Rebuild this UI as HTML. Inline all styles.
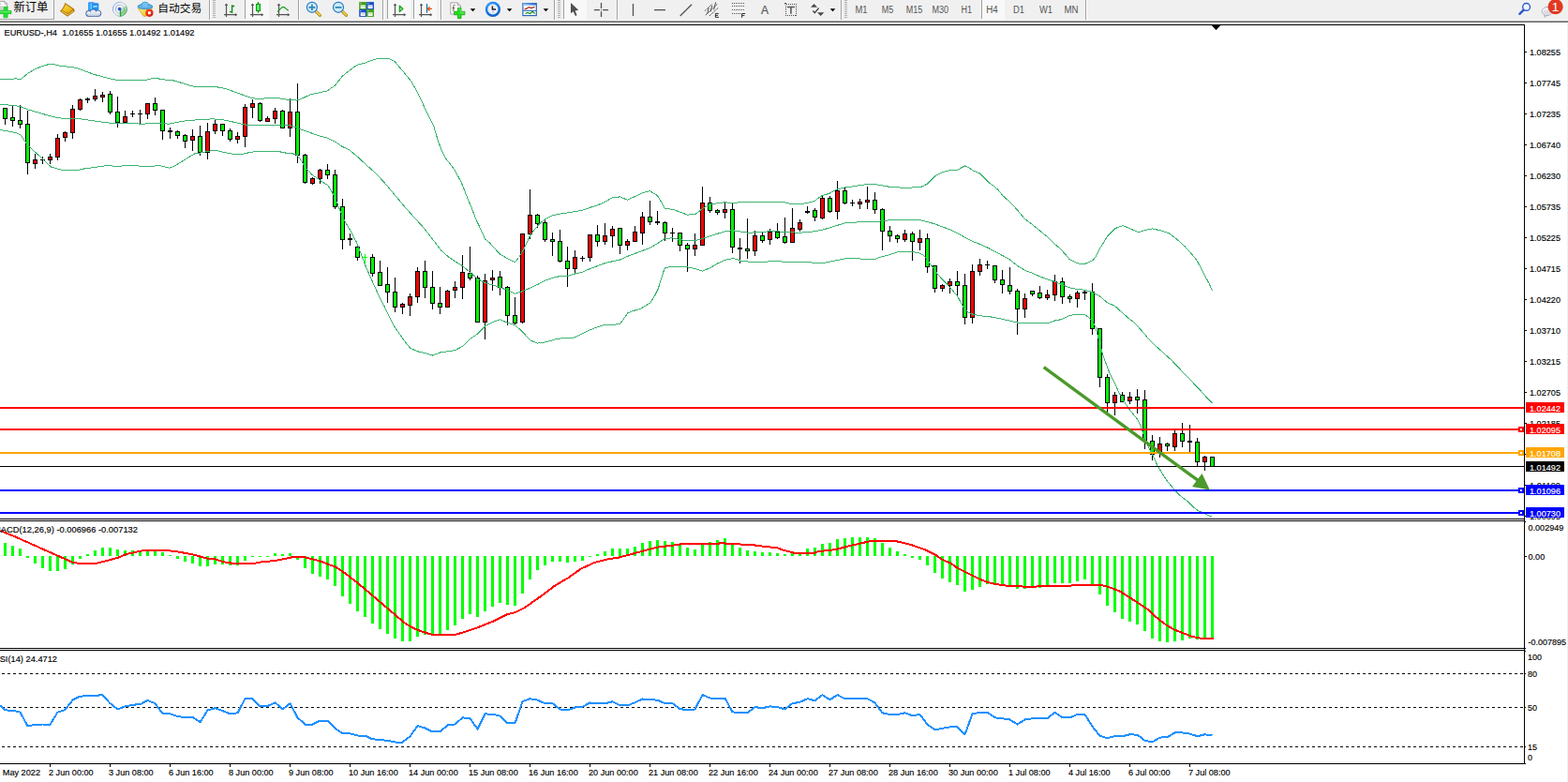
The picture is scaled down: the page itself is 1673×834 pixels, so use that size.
<!DOCTYPE html>
<html><head><meta charset="utf-8"><title>EURUSD H4</title>
<style>
html,body{margin:0;padding:0;background:#fff;}
body{width:1673px;height:834px;overflow:hidden;position:relative;font-family:"Liberation Sans",sans-serif;}
svg{position:absolute;left:0;top:0;display:block;}
text{font-family:"Liberation Sans",sans-serif;}
</style></head><body>
<svg width="1673" height="834" viewBox="0 0 1673 834">
<rect x="0" y="0" width="1673" height="834" fill="#fff"/>
<g shape-rendering="crispEdges">
<rect x="0" y="26" width="1627" height="1" fill="#000"/>
<rect x="1626" y="26" width="1" height="789" fill="#000"/>
<rect x="0" y="553" width="1627" height="1" fill="#000"/>
<rect x="0" y="555" width="1627" height="1" fill="#000"/>
<rect x="0" y="691" width="1627" height="1" fill="#000"/>
<rect x="0" y="693" width="1627" height="1" fill="#000"/>
<rect x="0" y="814" width="1627" height="1" fill="#000"/>
<rect x="1672" y="24" width="1" height="810" fill="#f0f0f0"/>
<rect x="5" y="115" width="1" height="18" fill="#000"/>
<rect x="3" y="115" width="5" height="12" fill="#000"/>
<rect x="4" y="116" width="3" height="10" fill="#00ff00"/>
<rect x="13" y="113" width="1" height="22" fill="#000"/>
<rect x="11" y="125" width="5" height="4" fill="#000"/>
<rect x="12" y="126" width="3" height="2" fill="#00ff00"/>
<rect x="21" y="112" width="1" height="25" fill="#000"/>
<rect x="19" y="128" width="5" height="5" fill="#000"/>
<rect x="20" y="129" width="3" height="3" fill="#00ff00"/>
<rect x="29" y="118" width="1" height="68" fill="#000"/>
<rect x="27" y="132" width="5" height="42" fill="#000"/>
<rect x="28" y="133" width="3" height="40" fill="#00ff00"/>
<rect x="37" y="164" width="1" height="16" fill="#000"/>
<rect x="35" y="170" width="5" height="5" fill="#000"/>
<rect x="36" y="171" width="3" height="3" fill="#ff0000"/>
<rect x="45" y="167" width="1" height="8" fill="#000"/>
<rect x="43" y="170" width="5" height="1" fill="#000"/>
<rect x="53" y="164" width="1" height="11" fill="#000"/>
<rect x="51" y="167" width="5" height="4" fill="#000"/>
<rect x="52" y="168" width="3" height="2" fill="#ff0000"/>
<rect x="61" y="143" width="1" height="28" fill="#000"/>
<rect x="59" y="147" width="5" height="21" fill="#000"/>
<rect x="60" y="148" width="3" height="19" fill="#ff0000"/>
<rect x="69" y="140" width="1" height="11" fill="#000"/>
<rect x="67" y="141" width="5" height="6" fill="#000"/>
<rect x="68" y="142" width="3" height="4" fill="#ff0000"/>
<rect x="77" y="112" width="1" height="36" fill="#000"/>
<rect x="75" y="116" width="5" height="26" fill="#000"/>
<rect x="76" y="117" width="3" height="24" fill="#ff0000"/>
<rect x="85" y="105" width="1" height="13" fill="#000"/>
<rect x="83" y="106" width="5" height="11" fill="#000"/>
<rect x="84" y="107" width="3" height="9" fill="#ff0000"/>
<rect x="93" y="104" width="1" height="6" fill="#000"/>
<rect x="91" y="105" width="5" height="2" fill="#000"/>
<rect x="101" y="95" width="1" height="13" fill="#000"/>
<rect x="99" y="102" width="5" height="4" fill="#000"/>
<rect x="100" y="103" width="3" height="2" fill="#ff0000"/>
<rect x="109" y="98" width="1" height="11" fill="#000"/>
<rect x="107" y="101" width="5" height="3" fill="#000"/>
<rect x="108" y="102" width="3" height="1" fill="#ff0000"/>
<rect x="117" y="97" width="1" height="25" fill="#000"/>
<rect x="115" y="100" width="5" height="20" fill="#000"/>
<rect x="116" y="101" width="3" height="18" fill="#00ff00"/>
<rect x="125" y="103" width="1" height="33" fill="#000"/>
<rect x="123" y="119" width="5" height="12" fill="#000"/>
<rect x="124" y="120" width="3" height="10" fill="#00ff00"/>
<rect x="133" y="118" width="1" height="13" fill="#000"/>
<rect x="131" y="124" width="5" height="7" fill="#000"/>
<rect x="132" y="125" width="3" height="5" fill="#ff0000"/>
<rect x="141" y="118" width="1" height="7" fill="#000"/>
<rect x="139" y="121" width="5" height="1" fill="#000"/>
<rect x="149" y="117" width="1" height="15" fill="#000"/>
<rect x="147" y="121" width="5" height="1" fill="#000"/>
<rect x="157" y="110" width="1" height="17" fill="#000"/>
<rect x="155" y="110" width="5" height="12" fill="#000"/>
<rect x="156" y="111" width="3" height="10" fill="#ff0000"/>
<rect x="165" y="104" width="1" height="19" fill="#000"/>
<rect x="163" y="110" width="5" height="8" fill="#000"/>
<rect x="164" y="111" width="3" height="6" fill="#00ff00"/>
<rect x="173" y="117" width="1" height="32" fill="#000"/>
<rect x="171" y="117" width="5" height="23" fill="#000"/>
<rect x="172" y="118" width="3" height="21" fill="#00ff00"/>
<rect x="181" y="136" width="1" height="12" fill="#000"/>
<rect x="179" y="139" width="5" height="2" fill="#000"/>
<rect x="189" y="139" width="1" height="9" fill="#000"/>
<rect x="187" y="140" width="5" height="5" fill="#000"/>
<rect x="188" y="141" width="3" height="3" fill="#00ff00"/>
<rect x="197" y="143" width="1" height="15" fill="#000"/>
<rect x="195" y="144" width="5" height="7" fill="#000"/>
<rect x="196" y="145" width="3" height="5" fill="#00ff00"/>
<rect x="205" y="138" width="1" height="23" fill="#000"/>
<rect x="203" y="145" width="5" height="5" fill="#000"/>
<rect x="204" y="146" width="3" height="3" fill="#ff0000"/>
<rect x="213" y="134" width="1" height="32" fill="#000"/>
<rect x="211" y="145" width="5" height="18" fill="#000"/>
<rect x="212" y="146" width="3" height="16" fill="#00ff00"/>
<rect x="221" y="131" width="1" height="39" fill="#000"/>
<rect x="219" y="140" width="5" height="23" fill="#000"/>
<rect x="220" y="141" width="3" height="21" fill="#ff0000"/>
<rect x="229" y="128" width="1" height="15" fill="#000"/>
<rect x="227" y="132" width="5" height="8" fill="#000"/>
<rect x="228" y="133" width="3" height="6" fill="#ff0000"/>
<rect x="237" y="132" width="1" height="13" fill="#000"/>
<rect x="235" y="132" width="5" height="8" fill="#000"/>
<rect x="236" y="133" width="3" height="6" fill="#00ff00"/>
<rect x="245" y="137" width="1" height="14" fill="#000"/>
<rect x="243" y="139" width="5" height="10" fill="#000"/>
<rect x="244" y="140" width="3" height="8" fill="#00ff00"/>
<rect x="253" y="141" width="1" height="12" fill="#000"/>
<rect x="251" y="145" width="5" height="4" fill="#000"/>
<rect x="252" y="146" width="3" height="2" fill="#ff0000"/>
<rect x="261" y="111" width="1" height="46" fill="#000"/>
<rect x="259" y="114" width="5" height="32" fill="#000"/>
<rect x="260" y="115" width="3" height="30" fill="#ff0000"/>
<rect x="269" y="106" width="1" height="20" fill="#000"/>
<rect x="267" y="110" width="5" height="5" fill="#000"/>
<rect x="268" y="111" width="3" height="3" fill="#ff0000"/>
<rect x="277" y="109" width="1" height="21" fill="#000"/>
<rect x="275" y="110" width="5" height="19" fill="#000"/>
<rect x="276" y="111" width="3" height="17" fill="#00ff00"/>
<rect x="285" y="124" width="1" height="6" fill="#000"/>
<rect x="283" y="126" width="5" height="4" fill="#000"/>
<rect x="284" y="127" width="3" height="2" fill="#ff0000"/>
<rect x="293" y="115" width="1" height="17" fill="#000"/>
<rect x="291" y="118" width="5" height="9" fill="#000"/>
<rect x="292" y="119" width="3" height="7" fill="#ff0000"/>
<rect x="301" y="117" width="1" height="20" fill="#000"/>
<rect x="299" y="118" width="5" height="19" fill="#000"/>
<rect x="300" y="119" width="3" height="17" fill="#00ff00"/>
<rect x="309" y="105" width="1" height="41" fill="#000"/>
<rect x="307" y="119" width="5" height="18" fill="#000"/>
<rect x="308" y="120" width="3" height="16" fill="#ff0000"/>
<rect x="317" y="89" width="1" height="85" fill="#000"/>
<rect x="315" y="119" width="5" height="47" fill="#000"/>
<rect x="316" y="120" width="3" height="45" fill="#00ff00"/>
<rect x="325" y="164" width="1" height="32" fill="#000"/>
<rect x="323" y="165" width="5" height="30" fill="#000"/>
<rect x="324" y="166" width="3" height="28" fill="#00ff00"/>
<rect x="333" y="189" width="1" height="8" fill="#000"/>
<rect x="331" y="190" width="5" height="6" fill="#000"/>
<rect x="332" y="191" width="3" height="4" fill="#ff0000"/>
<rect x="341" y="180" width="1" height="16" fill="#000"/>
<rect x="339" y="181" width="5" height="10" fill="#000"/>
<rect x="340" y="182" width="3" height="8" fill="#ff0000"/>
<rect x="349" y="175" width="1" height="16" fill="#000"/>
<rect x="347" y="181" width="5" height="6" fill="#000"/>
<rect x="348" y="182" width="3" height="4" fill="#00ff00"/>
<rect x="357" y="181" width="1" height="42" fill="#000"/>
<rect x="355" y="186" width="5" height="35" fill="#000"/>
<rect x="356" y="187" width="3" height="33" fill="#00ff00"/>
<rect x="365" y="212" width="1" height="54" fill="#000"/>
<rect x="363" y="220" width="5" height="36" fill="#000"/>
<rect x="364" y="221" width="3" height="34" fill="#00ff00"/>
<rect x="373" y="249" width="1" height="13" fill="#000"/>
<rect x="371" y="254" width="5" height="2" fill="#000"/>
<rect x="381" y="260" width="1" height="18" fill="#000"/>
<rect x="379" y="263" width="5" height="12" fill="#000"/>
<rect x="380" y="264" width="3" height="10" fill="#00ff00"/>
<rect x="389" y="271" width="1" height="11" fill="#00ff00"/>
<rect x="387" y="274" width="5" height="1" fill="#00ff00"/>
<rect x="397" y="271" width="1" height="24" fill="#000"/>
<rect x="395" y="274" width="5" height="18" fill="#000"/>
<rect x="396" y="275" width="3" height="16" fill="#00ff00"/>
<rect x="405" y="278" width="1" height="27" fill="#000"/>
<rect x="403" y="290" width="5" height="15" fill="#000"/>
<rect x="404" y="291" width="3" height="13" fill="#00ff00"/>
<rect x="413" y="285" width="1" height="38" fill="#000"/>
<rect x="411" y="303" width="5" height="9" fill="#000"/>
<rect x="412" y="304" width="3" height="7" fill="#00ff00"/>
<rect x="421" y="296" width="1" height="37" fill="#000"/>
<rect x="419" y="311" width="5" height="17" fill="#000"/>
<rect x="420" y="312" width="3" height="15" fill="#00ff00"/>
<rect x="429" y="323" width="1" height="12" fill="#000"/>
<rect x="427" y="324" width="5" height="4" fill="#000"/>
<rect x="428" y="325" width="3" height="2" fill="#ff0000"/>
<rect x="437" y="313" width="1" height="24" fill="#000"/>
<rect x="435" y="316" width="5" height="10" fill="#000"/>
<rect x="436" y="317" width="3" height="8" fill="#ff0000"/>
<rect x="445" y="285" width="1" height="38" fill="#000"/>
<rect x="443" y="289" width="5" height="28" fill="#000"/>
<rect x="444" y="290" width="3" height="26" fill="#ff0000"/>
<rect x="453" y="278" width="1" height="40" fill="#000"/>
<rect x="451" y="289" width="5" height="18" fill="#000"/>
<rect x="452" y="290" width="3" height="16" fill="#00ff00"/>
<rect x="461" y="289" width="1" height="41" fill="#000"/>
<rect x="459" y="306" width="5" height="18" fill="#000"/>
<rect x="460" y="307" width="3" height="16" fill="#00ff00"/>
<rect x="469" y="306" width="1" height="29" fill="#000"/>
<rect x="467" y="323" width="5" height="5" fill="#000"/>
<rect x="468" y="324" width="3" height="3" fill="#00ff00"/>
<rect x="477" y="309" width="1" height="19" fill="#000"/>
<rect x="475" y="310" width="5" height="18" fill="#000"/>
<rect x="476" y="311" width="3" height="16" fill="#ff0000"/>
<rect x="485" y="300" width="1" height="18" fill="#000"/>
<rect x="483" y="306" width="5" height="4" fill="#000"/>
<rect x="484" y="307" width="3" height="2" fill="#ff0000"/>
<rect x="493" y="272" width="1" height="47" fill="#000"/>
<rect x="491" y="290" width="5" height="17" fill="#000"/>
<rect x="492" y="291" width="3" height="15" fill="#ff0000"/>
<rect x="501" y="263" width="1" height="36" fill="#000"/>
<rect x="499" y="291" width="5" height="6" fill="#000"/>
<rect x="500" y="292" width="3" height="4" fill="#00ff00"/>
<rect x="509" y="294" width="1" height="50" fill="#000"/>
<rect x="507" y="296" width="5" height="48" fill="#000"/>
<rect x="508" y="297" width="3" height="46" fill="#00ff00"/>
<rect x="517" y="292" width="1" height="70" fill="#000"/>
<rect x="515" y="299" width="5" height="45" fill="#000"/>
<rect x="516" y="300" width="3" height="43" fill="#ff0000"/>
<rect x="525" y="288" width="1" height="22" fill="#000"/>
<rect x="523" y="296" width="5" height="3" fill="#000"/>
<rect x="524" y="297" width="3" height="1" fill="#ff0000"/>
<rect x="533" y="289" width="1" height="26" fill="#000"/>
<rect x="531" y="295" width="5" height="12" fill="#000"/>
<rect x="532" y="296" width="3" height="10" fill="#00ff00"/>
<rect x="541" y="305" width="1" height="42" fill="#000"/>
<rect x="539" y="306" width="5" height="31" fill="#000"/>
<rect x="540" y="307" width="3" height="29" fill="#00ff00"/>
<rect x="549" y="317" width="1" height="29" fill="#000"/>
<rect x="547" y="336" width="5" height="9" fill="#000"/>
<rect x="548" y="337" width="3" height="7" fill="#00ff00"/>
<rect x="557" y="249" width="1" height="96" fill="#000"/>
<rect x="555" y="249" width="5" height="95" fill="#000"/>
<rect x="556" y="250" width="3" height="93" fill="#ff0000"/>
<rect x="565" y="202" width="1" height="53" fill="#000"/>
<rect x="563" y="229" width="5" height="21" fill="#000"/>
<rect x="564" y="230" width="3" height="19" fill="#ff0000"/>
<rect x="573" y="228" width="1" height="15" fill="#000"/>
<rect x="571" y="229" width="5" height="10" fill="#000"/>
<rect x="572" y="230" width="3" height="8" fill="#00ff00"/>
<rect x="581" y="235" width="1" height="23" fill="#000"/>
<rect x="579" y="237" width="5" height="19" fill="#000"/>
<rect x="580" y="238" width="3" height="17" fill="#00ff00"/>
<rect x="589" y="248" width="1" height="25" fill="#000"/>
<rect x="587" y="255" width="5" height="3" fill="#000"/>
<rect x="588" y="256" width="3" height="1" fill="#00ff00"/>
<rect x="597" y="245" width="1" height="35" fill="#000"/>
<rect x="595" y="257" width="5" height="22" fill="#000"/>
<rect x="596" y="258" width="3" height="20" fill="#00ff00"/>
<rect x="605" y="263" width="1" height="43" fill="#000"/>
<rect x="603" y="278" width="5" height="9" fill="#000"/>
<rect x="604" y="279" width="3" height="7" fill="#00ff00"/>
<rect x="613" y="267" width="1" height="25" fill="#000"/>
<rect x="611" y="274" width="5" height="13" fill="#000"/>
<rect x="612" y="275" width="3" height="11" fill="#ff0000"/>
<rect x="621" y="273" width="1" height="6" fill="#000"/>
<rect x="619" y="275" width="5" height="1" fill="#000"/>
<rect x="629" y="250" width="1" height="29" fill="#000"/>
<rect x="627" y="250" width="5" height="25" fill="#000"/>
<rect x="628" y="251" width="3" height="23" fill="#ff0000"/>
<rect x="637" y="240" width="1" height="23" fill="#000"/>
<rect x="635" y="250" width="5" height="8" fill="#000"/>
<rect x="636" y="251" width="3" height="6" fill="#00ff00"/>
<rect x="645" y="238" width="1" height="23" fill="#000"/>
<rect x="643" y="251" width="5" height="7" fill="#000"/>
<rect x="644" y="252" width="3" height="5" fill="#ff0000"/>
<rect x="653" y="241" width="1" height="23" fill="#000"/>
<rect x="651" y="244" width="5" height="8" fill="#000"/>
<rect x="652" y="245" width="3" height="6" fill="#ff0000"/>
<rect x="661" y="243" width="1" height="28" fill="#000"/>
<rect x="659" y="243" width="5" height="19" fill="#000"/>
<rect x="660" y="244" width="3" height="17" fill="#00ff00"/>
<rect x="669" y="255" width="1" height="12" fill="#000"/>
<rect x="667" y="257" width="5" height="5" fill="#000"/>
<rect x="668" y="258" width="3" height="3" fill="#ff0000"/>
<rect x="677" y="241" width="1" height="17" fill="#000"/>
<rect x="675" y="247" width="5" height="11" fill="#000"/>
<rect x="676" y="248" width="3" height="9" fill="#ff0000"/>
<rect x="685" y="226" width="1" height="35" fill="#000"/>
<rect x="683" y="231" width="5" height="18" fill="#000"/>
<rect x="684" y="232" width="3" height="16" fill="#ff0000"/>
<rect x="693" y="214" width="1" height="26" fill="#000"/>
<rect x="691" y="231" width="5" height="6" fill="#000"/>
<rect x="692" y="232" width="3" height="4" fill="#00ff00"/>
<rect x="701" y="225" width="1" height="15" fill="#000"/>
<rect x="699" y="236" width="5" height="2" fill="#000"/>
<rect x="709" y="236" width="1" height="21" fill="#000"/>
<rect x="707" y="237" width="5" height="12" fill="#000"/>
<rect x="708" y="238" width="3" height="10" fill="#00ff00"/>
<rect x="717" y="243" width="1" height="15" fill="#000"/>
<rect x="715" y="248" width="5" height="1" fill="#000"/>
<rect x="725" y="248" width="1" height="20" fill="#000"/>
<rect x="723" y="248" width="5" height="14" fill="#000"/>
<rect x="724" y="249" width="3" height="12" fill="#00ff00"/>
<rect x="733" y="259" width="1" height="31" fill="#000"/>
<rect x="731" y="261" width="5" height="5" fill="#000"/>
<rect x="732" y="262" width="3" height="3" fill="#00ff00"/>
<rect x="741" y="249" width="1" height="24" fill="#000"/>
<rect x="739" y="261" width="5" height="5" fill="#000"/>
<rect x="740" y="262" width="3" height="3" fill="#ff0000"/>
<rect x="749" y="199" width="1" height="63" fill="#000"/>
<rect x="747" y="216" width="5" height="46" fill="#000"/>
<rect x="748" y="217" width="3" height="44" fill="#ff0000"/>
<rect x="757" y="210" width="1" height="17" fill="#000"/>
<rect x="755" y="216" width="5" height="9" fill="#000"/>
<rect x="756" y="217" width="3" height="7" fill="#00ff00"/>
<rect x="765" y="223" width="1" height="6" fill="#000"/>
<rect x="763" y="224" width="5" height="3" fill="#000"/>
<rect x="764" y="225" width="3" height="1" fill="#00ff00"/>
<rect x="773" y="216" width="1" height="17" fill="#000"/>
<rect x="771" y="223" width="5" height="4" fill="#000"/>
<rect x="772" y="224" width="3" height="2" fill="#ff0000"/>
<rect x="781" y="217" width="1" height="53" fill="#000"/>
<rect x="779" y="223" width="5" height="41" fill="#000"/>
<rect x="780" y="224" width="3" height="39" fill="#00ff00"/>
<rect x="789" y="254" width="1" height="27" fill="#000"/>
<rect x="787" y="264" width="5" height="2" fill="#000"/>
<rect x="797" y="233" width="1" height="43" fill="#000"/>
<rect x="795" y="265" width="5" height="3" fill="#000"/>
<rect x="796" y="266" width="3" height="1" fill="#00ff00"/>
<rect x="805" y="246" width="1" height="27" fill="#000"/>
<rect x="803" y="251" width="5" height="17" fill="#000"/>
<rect x="804" y="252" width="3" height="15" fill="#ff0000"/>
<rect x="813" y="248" width="1" height="11" fill="#000"/>
<rect x="811" y="251" width="5" height="6" fill="#000"/>
<rect x="812" y="252" width="3" height="4" fill="#00ff00"/>
<rect x="821" y="244" width="1" height="17" fill="#000"/>
<rect x="819" y="247" width="5" height="9" fill="#000"/>
<rect x="820" y="248" width="3" height="7" fill="#ff0000"/>
<rect x="829" y="238" width="1" height="17" fill="#000"/>
<rect x="827" y="247" width="5" height="7" fill="#000"/>
<rect x="828" y="248" width="3" height="5" fill="#00ff00"/>
<rect x="837" y="232" width="1" height="28" fill="#000"/>
<rect x="835" y="252" width="5" height="7" fill="#000"/>
<rect x="836" y="253" width="3" height="5" fill="#00ff00"/>
<rect x="845" y="222" width="1" height="37" fill="#000"/>
<rect x="843" y="243" width="5" height="16" fill="#000"/>
<rect x="844" y="244" width="3" height="14" fill="#ff0000"/>
<rect x="853" y="234" width="1" height="13" fill="#000"/>
<rect x="851" y="237" width="5" height="8" fill="#000"/>
<rect x="852" y="238" width="3" height="6" fill="#ff0000"/>
<rect x="861" y="220" width="1" height="8" fill="#000"/>
<rect x="859" y="225" width="5" height="2" fill="#000"/>
<rect x="869" y="222" width="1" height="14" fill="#000"/>
<rect x="867" y="224" width="5" height="8" fill="#000"/>
<rect x="868" y="225" width="3" height="6" fill="#00ff00"/>
<rect x="877" y="209" width="1" height="25" fill="#000"/>
<rect x="875" y="211" width="5" height="22" fill="#000"/>
<rect x="876" y="212" width="3" height="20" fill="#ff0000"/>
<rect x="885" y="209" width="1" height="18" fill="#000"/>
<rect x="883" y="211" width="5" height="15" fill="#000"/>
<rect x="884" y="212" width="3" height="13" fill="#00ff00"/>
<rect x="893" y="193" width="1" height="41" fill="#000"/>
<rect x="891" y="203" width="5" height="23" fill="#000"/>
<rect x="892" y="204" width="3" height="21" fill="#ff0000"/>
<rect x="901" y="200" width="1" height="18" fill="#000"/>
<rect x="899" y="203" width="5" height="14" fill="#000"/>
<rect x="900" y="204" width="3" height="12" fill="#00ff00"/>
<rect x="909" y="213" width="1" height="7" fill="#000"/>
<rect x="907" y="216" width="5" height="1" fill="#000"/>
<rect x="917" y="212" width="1" height="11" fill="#000"/>
<rect x="915" y="215" width="5" height="3" fill="#000"/>
<rect x="916" y="216" width="3" height="1" fill="#ff0000"/>
<rect x="925" y="199" width="1" height="24" fill="#000"/>
<rect x="923" y="213" width="5" height="3" fill="#000"/>
<rect x="924" y="214" width="3" height="1" fill="#ff0000"/>
<rect x="933" y="205" width="1" height="23" fill="#000"/>
<rect x="931" y="213" width="5" height="11" fill="#000"/>
<rect x="932" y="214" width="3" height="9" fill="#00ff00"/>
<rect x="941" y="222" width="1" height="45" fill="#000"/>
<rect x="939" y="223" width="5" height="24" fill="#000"/>
<rect x="940" y="224" width="3" height="22" fill="#00ff00"/>
<rect x="949" y="241" width="1" height="17" fill="#000"/>
<rect x="947" y="246" width="5" height="6" fill="#000"/>
<rect x="948" y="247" width="3" height="4" fill="#00ff00"/>
<rect x="957" y="250" width="1" height="9" fill="#000"/>
<rect x="955" y="251" width="5" height="4" fill="#000"/>
<rect x="956" y="252" width="3" height="2" fill="#00ff00"/>
<rect x="965" y="245" width="1" height="13" fill="#000"/>
<rect x="963" y="249" width="5" height="7" fill="#000"/>
<rect x="964" y="250" width="3" height="5" fill="#ff0000"/>
<rect x="973" y="247" width="1" height="31" fill="#000"/>
<rect x="971" y="249" width="5" height="9" fill="#000"/>
<rect x="972" y="250" width="3" height="7" fill="#00ff00"/>
<rect x="981" y="245" width="1" height="22" fill="#000"/>
<rect x="979" y="254" width="5" height="5" fill="#000"/>
<rect x="980" y="255" width="3" height="3" fill="#ff0000"/>
<rect x="989" y="249" width="1" height="42" fill="#000"/>
<rect x="987" y="254" width="5" height="31" fill="#000"/>
<rect x="988" y="255" width="3" height="29" fill="#00ff00"/>
<rect x="997" y="283" width="1" height="29" fill="#000"/>
<rect x="995" y="283" width="5" height="25" fill="#000"/>
<rect x="996" y="284" width="3" height="23" fill="#00ff00"/>
<rect x="1005" y="303" width="1" height="8" fill="#000"/>
<rect x="1003" y="304" width="5" height="4" fill="#000"/>
<rect x="1004" y="305" width="3" height="2" fill="#ff0000"/>
<rect x="1013" y="297" width="1" height="16" fill="#000"/>
<rect x="1011" y="300" width="5" height="5" fill="#000"/>
<rect x="1012" y="301" width="3" height="3" fill="#ff0000"/>
<rect x="1021" y="289" width="1" height="26" fill="#000"/>
<rect x="1019" y="300" width="5" height="5" fill="#000"/>
<rect x="1020" y="301" width="3" height="3" fill="#00ff00"/>
<rect x="1029" y="292" width="1" height="54" fill="#000"/>
<rect x="1027" y="304" width="5" height="35" fill="#000"/>
<rect x="1028" y="305" width="3" height="33" fill="#00ff00"/>
<rect x="1037" y="282" width="1" height="63" fill="#000"/>
<rect x="1035" y="289" width="5" height="50" fill="#000"/>
<rect x="1036" y="290" width="3" height="48" fill="#ff0000"/>
<rect x="1045" y="276" width="1" height="18" fill="#000"/>
<rect x="1043" y="282" width="5" height="8" fill="#000"/>
<rect x="1044" y="283" width="3" height="6" fill="#ff0000"/>
<rect x="1053" y="278" width="1" height="9" fill="#000"/>
<rect x="1051" y="282" width="5" height="1" fill="#000"/>
<rect x="1061" y="283" width="1" height="19" fill="#000"/>
<rect x="1059" y="283" width="5" height="16" fill="#000"/>
<rect x="1060" y="284" width="3" height="14" fill="#00ff00"/>
<rect x="1069" y="288" width="1" height="25" fill="#000"/>
<rect x="1067" y="298" width="5" height="6" fill="#000"/>
<rect x="1068" y="299" width="3" height="4" fill="#00ff00"/>
<rect x="1077" y="285" width="1" height="29" fill="#000"/>
<rect x="1075" y="304" width="5" height="7" fill="#000"/>
<rect x="1076" y="305" width="3" height="5" fill="#00ff00"/>
<rect x="1085" y="308" width="1" height="49" fill="#000"/>
<rect x="1083" y="310" width="5" height="20" fill="#000"/>
<rect x="1084" y="311" width="3" height="18" fill="#00ff00"/>
<rect x="1093" y="313" width="1" height="26" fill="#000"/>
<rect x="1091" y="318" width="5" height="12" fill="#000"/>
<rect x="1092" y="319" width="3" height="10" fill="#ff0000"/>
<rect x="1101" y="310" width="1" height="6" fill="#000"/>
<rect x="1099" y="310" width="5" height="4" fill="#000"/>
<rect x="1100" y="311" width="3" height="2" fill="#00ff00"/>
<rect x="1109" y="305" width="1" height="14" fill="#000"/>
<rect x="1107" y="312" width="5" height="6" fill="#000"/>
<rect x="1108" y="313" width="3" height="4" fill="#00ff00"/>
<rect x="1117" y="309" width="1" height="11" fill="#000"/>
<rect x="1115" y="314" width="5" height="4" fill="#000"/>
<rect x="1116" y="315" width="3" height="2" fill="#ff0000"/>
<rect x="1125" y="293" width="1" height="28" fill="#000"/>
<rect x="1123" y="300" width="5" height="15" fill="#000"/>
<rect x="1124" y="301" width="3" height="13" fill="#ff0000"/>
<rect x="1133" y="296" width="1" height="28" fill="#000"/>
<rect x="1131" y="300" width="5" height="17" fill="#000"/>
<rect x="1132" y="301" width="3" height="15" fill="#00ff00"/>
<rect x="1141" y="314" width="1" height="9" fill="#000"/>
<rect x="1139" y="316" width="5" height="3" fill="#000"/>
<rect x="1140" y="317" width="3" height="1" fill="#00ff00"/>
<rect x="1149" y="310" width="1" height="18" fill="#000"/>
<rect x="1147" y="312" width="5" height="7" fill="#000"/>
<rect x="1148" y="313" width="3" height="5" fill="#ff0000"/>
<rect x="1157" y="309" width="1" height="11" fill="#000"/>
<rect x="1155" y="311" width="5" height="2" fill="#000"/>
<rect x="1165" y="302" width="1" height="55" fill="#000"/>
<rect x="1163" y="311" width="5" height="40" fill="#000"/>
<rect x="1164" y="312" width="3" height="38" fill="#00ff00"/>
<rect x="1173" y="350" width="1" height="63" fill="#000"/>
<rect x="1171" y="350" width="5" height="53" fill="#000"/>
<rect x="1172" y="351" width="3" height="51" fill="#00ff00"/>
<rect x="1181" y="399" width="1" height="41" fill="#000"/>
<rect x="1179" y="402" width="5" height="28" fill="#000"/>
<rect x="1180" y="403" width="3" height="26" fill="#00ff00"/>
<rect x="1189" y="418" width="1" height="25" fill="#000"/>
<rect x="1187" y="421" width="5" height="9" fill="#000"/>
<rect x="1188" y="422" width="3" height="7" fill="#ff0000"/>
<rect x="1197" y="418" width="1" height="11" fill="#000"/>
<rect x="1195" y="421" width="5" height="8" fill="#000"/>
<rect x="1196" y="422" width="3" height="6" fill="#00ff00"/>
<rect x="1205" y="418" width="1" height="13" fill="#000"/>
<rect x="1203" y="423" width="5" height="5" fill="#000"/>
<rect x="1204" y="424" width="3" height="3" fill="#ff0000"/>
<rect x="1213" y="415" width="1" height="26" fill="#000"/>
<rect x="1211" y="423" width="5" height="4" fill="#000"/>
<rect x="1212" y="424" width="3" height="2" fill="#00ff00"/>
<rect x="1221" y="416" width="1" height="63" fill="#000"/>
<rect x="1219" y="426" width="5" height="44" fill="#000"/>
<rect x="1220" y="427" width="3" height="42" fill="#00ff00"/>
<rect x="1229" y="464" width="1" height="27" fill="#000"/>
<rect x="1227" y="470" width="5" height="15" fill="#000"/>
<rect x="1228" y="471" width="3" height="13" fill="#00ff00"/>
<rect x="1237" y="466" width="1" height="22" fill="#000"/>
<rect x="1235" y="473" width="5" height="10" fill="#000"/>
<rect x="1236" y="474" width="3" height="8" fill="#ff0000"/>
<rect x="1245" y="472" width="1" height="9" fill="#000"/>
<rect x="1243" y="473" width="5" height="3" fill="#000"/>
<rect x="1244" y="474" width="3" height="1" fill="#00ff00"/>
<rect x="1253" y="459" width="1" height="22" fill="#000"/>
<rect x="1251" y="462" width="5" height="15" fill="#000"/>
<rect x="1252" y="463" width="3" height="13" fill="#ff0000"/>
<rect x="1261" y="451" width="1" height="26" fill="#000"/>
<rect x="1259" y="462" width="5" height="9" fill="#000"/>
<rect x="1260" y="463" width="3" height="7" fill="#00ff00"/>
<rect x="1269" y="453" width="1" height="29" fill="#000"/>
<rect x="1267" y="470" width="5" height="2" fill="#000"/>
<rect x="1277" y="467" width="1" height="31" fill="#000"/>
<rect x="1275" y="471" width="5" height="22" fill="#000"/>
<rect x="1276" y="472" width="3" height="20" fill="#00ff00"/>
<rect x="1285" y="486" width="1" height="16" fill="#000"/>
<rect x="1283" y="487" width="5" height="6" fill="#000"/>
<rect x="1284" y="488" width="3" height="4" fill="#ff0000"/>
<rect x="1293" y="487" width="1" height="11" fill="#000"/>
<rect x="1291" y="487" width="5" height="11" fill="#000"/>
<rect x="1292" y="488" width="3" height="9" fill="#00ff00"/>
<polyline points="0.5,84.7 17.8,83.9 22.1,84.7 29.3,78.6 36.5,74.2 43.7,71.1 50.9,68.9 58.1,68.9 65.2,70.4 72.4,71.1 79.6,72.1 86.8,74.2 94.0,77.1 101.2,79.7 108.4,81.4 115.6,83.6 122.8,85.0 137.2,85.0 147.3,86.0 153.0,85.8 161.7,83.9 168.8,83.9 176.0,85.0 184.7,85.8 194.7,88.6 204.8,91.9 213.5,92.9 232.5,93.0 240.5,94.5 250.5,98.1 260.5,101.7 268.5,104.4 275.5,105.6 285.5,104.7 297.5,104.7 305.5,106.1 316.5,107.1 320.5,105.9 330.5,101.1 340.5,98.8 349.1,97.0 357.8,90.8 365.0,81.5 372.2,75.7 380.8,69.2 389.4,67.1 398.1,63.9 405.2,62.0 413.9,62.0 421.1,65.6 429.7,75.7 439.1,87.2 447.0,101.6 455.6,120.3 462.8,134.7 467.1,149.1 470.7,159.2 475.5,168.7 485.5,181.9 492.5,195.1 498.5,210.5 503.5,222.5 508.5,235.5 514.5,247.7 517.5,254.9 522.5,259.1 528.5,265.7 533.5,271.1 540.5,275.2 549.5,279.9 553.5,274.5 557.5,268.6 561.5,260.2 565.5,251.3 569.5,245.9 573.5,241.1 577.5,236.9 581.5,233.9 589.5,229.7 597.5,228.1 605.5,226.9 613.5,225.5 621.5,224.3 629.5,221.3 637.5,218.9 645.5,215.3 653.5,210.8 661.5,209.9 669.5,213.2 677.5,209.6 685.5,205.7 693.5,203.7 701.5,208.7 705.5,215.3 709.5,222.8 717.5,223.1 725.5,226.1 733.5,229.1 741.5,228.7 745.5,225.9 749.5,222.3 757.5,218.3 765.5,216.6 773.5,215.7 781.5,216.9 789.5,215.7 797.5,215.4 813.5,215.7 829.5,215.7 837.5,215.9 845.5,217.8 853.5,217.8 861.5,216.3 869.5,214.5 873.5,210.9 877.5,208.5 885.5,206.1 889.5,203.7 893.5,201.9 901.5,199.9 909.5,198.9 917.5,197.7 925.5,196.5 937.5,197.1 945.5,198.7 953.5,199.9 965.5,200.1 981.5,199.9 985.5,198.1 989.9,195.8 998.5,187.1 1005.0,183.9 1012.2,181.9 1021.9,181.0 1029.4,177.0 1033.7,178.8 1038.1,181.9 1045.6,185.0 1049.9,189.3 1055.3,194.9 1059.6,197.9 1065.4,202.9 1069.5,208.3 1077.5,215.5 1085.5,223.9 1093.5,233.5 1101.5,239.5 1109.5,246.1 1117.5,252.6 1125.5,260.4 1131.5,265.5 1137.5,272.1 1141.5,276.9 1149.1,280.7 1156.3,281.9 1161.5,279.9 1166.4,277.3 1169.5,273.3 1173.6,265.0 1181.5,252.1 1190.1,243.5 1198.1,240.6 1205.2,243.5 1214.6,247.8 1221.1,245.6 1229.7,243.9 1238.3,245.9 1247.0,248.5 1255.6,255.0 1264.2,262.9 1271.4,270.8 1277.2,278.0 1284.4,291.7 1290.1,302.5 1293.5,310.1" fill="none" stroke="#3cb371" stroke-width="1"/>
<polyline points="0.5,111.5 10.5,112.1 20.5,113.3 25.5,115.1 30.5,117.1 40.5,119.9 50.5,122.9 60.5,125.3 70.5,126.8 85.5,126.8 100.5,128.9 115.5,131.0 125.5,131.3 140.5,131.3 150.5,132.2 165.5,131.6 180.5,132.1 190.5,130.1 200.5,128.5 215.5,127.5 225.5,126.9 235.5,127.2 245.5,129.3 255.5,131.7 265.5,133.8 280.5,133.8 300.5,133.8 310.5,133.8 315.5,135.9 320.5,137.7 330.5,141.3 340.5,144.8 349.1,146.9 357.8,151.3 365.0,156.3 372.5,159.8 380.5,166.3 393.5,178.3 400.5,184.3 410.5,195.1 420.5,207.1 430.5,219.0 440.5,230.3 450.5,241.2 460.5,253.7 470.5,266.9 478.5,274.0 485.5,278.8 493.5,283.6 500.5,289.6 508.5,296.5 514.5,300.2 521.5,302.9 530.5,305.3 541.5,309.5 549.5,313.1 557.5,310.7 565.5,307.1 573.5,303.5 581.5,299.3 589.5,296.3 596.5,294.8 605.5,294.5 613.5,292.0 621.5,290.2 629.5,286.6 637.5,283.6 645.5,280.6 653.5,278.8 661.5,277.0 669.5,273.4 677.5,270.4 685.5,267.4 693.5,264.4 701.5,259.6 709.5,254.3 717.5,253.9 725.5,255.5 733.5,257.0 741.5,256.8 749.5,254.6 757.5,251.7 765.5,249.3 773.5,246.9 781.5,245.7 789.5,246.9 797.5,248.1 813.5,247.8 821.5,246.3 829.5,246.6 837.5,247.8 853.5,248.1 861.5,247.8 869.5,246.6 877.5,245.1 885.5,242.9 893.5,240.3 901.5,237.9 909.5,237.5 917.5,236.7 926.5,236.8 933.5,236.8 941.5,235.6 949.5,234.7 965.5,234.7 981.5,234.7 985.5,235.6 989.5,236.5 997.5,238.9 1005.5,241.9 1013.5,244.9 1021.5,248.5 1029.5,253.2 1037.5,257.4 1045.5,260.4 1053.5,264.0 1061.5,268.2 1069.5,272.5 1077.5,277.0 1085.5,283.3 1093.5,288.3 1101.5,291.3 1109.5,294.9 1117.5,297.9 1125.5,300.3 1133.5,303.9 1141.5,306.9 1149.5,308.4 1157.5,309.3 1165.5,311.6 1173.5,316.0 1182.2,323.3 1189.4,326.2 1198.1,334.1 1205.5,340.6 1209.5,343.5 1217.5,351.9 1225.5,361.5 1233.5,369.3 1241.5,376.5 1249.5,383.7 1257.5,392.1 1265.5,400.5 1273.5,408.8 1281.5,417.2 1289.5,426.2 1293.5,430.0" fill="none" stroke="#3cb371" stroke-width="1"/>
<polyline points="0.5,138.5 10.5,140.3 18.5,142.1 22.5,144.5 26.5,150.5 30.5,155.8 35.5,160.6 40.5,164.8 45.5,169.6 50.5,174.4 54.5,178.0 60.5,179.8 68.5,181.9 80.5,181.9 90.5,179.8 100.5,178.6 113.5,176.6 125.5,177.4 135.5,176.6 150.5,177.1 160.5,177.4 170.5,176.6 180.5,179.2 185.5,177.4 190.5,174.4 200.5,168.3 207.5,164.0 215.5,162.8 225.5,160.8 232.5,160.8 240.5,162.8 250.5,164.6 257.5,164.6 265.5,162.8 272.5,161.6 285.5,161.6 297.5,161.6 305.5,163.2 312.5,164.0 316.5,165.0 320.5,169.9 326.5,179.5 333.5,186.9 340.5,191.5 345.5,195.1 349.5,197.5 352.5,201.7 357.5,211.0 362.5,223.7 368.5,236.9 374.5,247.0 380.5,258.5 385.5,271.7 390.5,284.8 395.5,296.0 400.5,307.3 405.5,317.9 410.5,327.5 415.5,338.3 420.5,347.9 425.5,355.0 430.5,362.2 437.5,371.2 445.5,374.8 453.5,376.6 461.5,379.0 469.5,376.0 477.5,374.8 485.5,373.6 493.5,369.4 500.5,362.2 509.5,356.2 517.5,347.9 525.5,343.7 533.5,340.7 541.5,344.3 549.5,346.7 557.5,353.8 565.5,362.8 573.5,366.1 581.5,364.9 589.5,362.8 594.9,361.1 609.3,360.6 614.1,359.6 621.3,356.0 628.5,352.4 634.5,349.8 642.9,347.0 654.8,346.4 662.0,345.0 665.6,339.9 669.8,333.9 674.0,332.1 683.6,329.1 693.8,323.1 698.6,315.3 702.2,308.1 705.2,298.5 708.2,288.9 710.0,285.1 717.5,284.9 725.5,284.9 734.0,285.0 741.5,286.5 749.5,289.1 757.5,285.8 765.5,281.0 773.5,277.4 781.5,275.6 785.5,276.2 789.5,278.0 797.5,279.0 805.5,279.2 813.5,279.8 821.5,278.6 829.5,278.3 837.5,279.5 853.5,279.5 861.5,279.8 869.5,280.2 877.5,280.7 885.5,279.2 893.5,277.4 901.5,275.9 909.5,275.6 917.5,275.9 925.5,276.8 933.5,277.0 937.5,274.8 941.5,273.6 949.5,271.6 957.5,268.8 965.5,268.5 973.5,268.5 981.5,270.1 985.5,272.4 989.5,277.0 993.5,283.0 997.5,288.3 1001.5,293.7 1005.5,297.9 1013.5,306.3 1021.5,315.9 1025.5,323.1 1029.5,330.2 1033.5,333.2 1037.5,335.0 1045.5,336.8 1053.5,337.4 1061.5,338.6 1069.5,340.4 1077.5,342.2 1085.5,344.0 1093.5,344.0 1101.5,344.0 1105.5,344.9 1117.5,344.9 1121.5,343.4 1125.5,342.0 1133.5,340.4 1137.5,338.4 1141.5,336.2 1149.5,335.6 1157.5,335.6 1161.5,338.6 1165.5,342.2 1168.5,347.5 1171.5,358.5 1175.5,374.1 1179.5,386.1 1183.5,396.9 1189.5,408.8 1193.5,418.0 1197.5,424.8 1201.5,431.5 1205.5,437.3 1209.5,442.1 1213.5,446.9 1217.5,455.3 1221.5,467.3 1225.5,476.9 1230.1,485.7 1234.9,496.5 1239.7,504.3 1244.5,512.0 1249.3,517.7 1254.1,523.5 1258.9,528.3 1263.6,532.1 1268.5,535.9 1273.2,540.7 1278.0,544.5 1282.8,546.5 1287.6,548.9 1293.5,551.3" fill="none" stroke="#3cb371" stroke-width="1"/>
<rect x="0" y="434" width="1626" height="2" fill="#ff0000"/>
<rect x="0" y="457" width="1626" height="2" fill="#ff0000"/>
<rect x="0" y="482" width="1626" height="2" fill="#ffa500"/>
<rect x="0" y="497" width="1626" height="1" fill="#000"/>
<rect x="0" y="522" width="1626" height="2" fill="#0000ff"/>
<rect x="0" y="546" width="1626" height="2" fill="#0000ff"/>
<rect x="1620" y="455" width="6" height="6" fill="#ff0000"/>
<rect x="1622" y="457" width="2" height="2" fill="#fff"/>
<rect x="1620" y="480" width="6" height="6" fill="#ffa500"/>
<rect x="1622" y="482" width="2" height="2" fill="#fff"/>
<rect x="1620" y="520" width="6" height="6" fill="#0000ff"/>
<rect x="1622" y="522" width="2" height="2" fill="#fff"/>
<rect x="1620" y="544" width="6" height="6" fill="#0000ff"/>
<rect x="1622" y="546" width="2" height="2" fill="#fff"/>
<rect x="1277" y="467" width="1" height="31" fill="#000"/>
<rect x="1275" y="471" width="5" height="22" fill="#000"/>
<rect x="1276" y="472" width="3" height="20" fill="#00ff00"/>
<rect x="1285" y="486" width="1" height="16" fill="#000"/>
<rect x="1283" y="487" width="5" height="6" fill="#000"/>
<rect x="1284" y="488" width="3" height="4" fill="#ff0000"/>
<rect x="1293" y="487" width="1" height="11" fill="#000"/>
<rect x="1291" y="487" width="5" height="11" fill="#000"/>
<rect x="1292" y="488" width="3" height="9" fill="#00ff00"/>
<rect x="4" y="579" width="3" height="14" fill="#00ff00"/>
<rect x="12" y="582" width="3" height="11" fill="#00ff00"/>
<rect x="20" y="585" width="3" height="8" fill="#00ff00"/>
<rect x="28" y="593" width="3" height="2" fill="#00ff00"/>
<rect x="36" y="593" width="3" height="8" fill="#00ff00"/>
<rect x="44" y="593" width="3" height="13" fill="#00ff00"/>
<rect x="52" y="593" width="3" height="16" fill="#00ff00"/>
<rect x="60" y="593" width="3" height="16" fill="#00ff00"/>
<rect x="68" y="593" width="3" height="14" fill="#00ff00"/>
<rect x="76" y="593" width="3" height="9" fill="#00ff00"/>
<rect x="84" y="593" width="3" height="3" fill="#00ff00"/>
<rect x="92" y="591" width="3" height="2" fill="#00ff00"/>
<rect x="100" y="587" width="3" height="6" fill="#00ff00"/>
<rect x="108" y="584" width="3" height="9" fill="#00ff00"/>
<rect x="116" y="584" width="3" height="9" fill="#00ff00"/>
<rect x="124" y="586" width="3" height="7" fill="#00ff00"/>
<rect x="132" y="587" width="3" height="6" fill="#00ff00"/>
<rect x="140" y="587" width="3" height="6" fill="#00ff00"/>
<rect x="148" y="587" width="3" height="6" fill="#00ff00"/>
<rect x="156" y="587" width="3" height="6" fill="#00ff00"/>
<rect x="164" y="587" width="3" height="6" fill="#00ff00"/>
<rect x="172" y="589" width="3" height="4" fill="#00ff00"/>
<rect x="180" y="592" width="3" height="1" fill="#00ff00"/>
<rect x="188" y="593" width="3" height="3" fill="#00ff00"/>
<rect x="196" y="593" width="3" height="6" fill="#00ff00"/>
<rect x="204" y="593" width="3" height="8" fill="#00ff00"/>
<rect x="212" y="593" width="3" height="11" fill="#00ff00"/>
<rect x="220" y="593" width="3" height="11" fill="#00ff00"/>
<rect x="228" y="593" width="3" height="9" fill="#00ff00"/>
<rect x="236" y="593" width="3" height="9" fill="#00ff00"/>
<rect x="244" y="593" width="3" height="10" fill="#00ff00"/>
<rect x="252" y="593" width="3" height="10" fill="#00ff00"/>
<rect x="260" y="593" width="3" height="5" fill="#00ff00"/>
<rect x="268" y="593" width="3" height="1" fill="#00ff00"/>
<rect x="276" y="593" width="3" height="1" fill="#00ff00"/>
<rect x="284" y="593" width="3" height="1" fill="#00ff00"/>
<rect x="292" y="590" width="3" height="3" fill="#00ff00"/>
<rect x="300" y="591" width="3" height="2" fill="#00ff00"/>
<rect x="308" y="590" width="3" height="3" fill="#00ff00"/>
<rect x="316" y="593" width="3" height="4" fill="#00ff00"/>
<rect x="324" y="593" width="3" height="13" fill="#00ff00"/>
<rect x="332" y="593" width="3" height="19" fill="#00ff00"/>
<rect x="340" y="593" width="3" height="22" fill="#00ff00"/>
<rect x="348" y="593" width="3" height="25" fill="#00ff00"/>
<rect x="356" y="593" width="3" height="32" fill="#00ff00"/>
<rect x="364" y="593" width="3" height="43" fill="#00ff00"/>
<rect x="372" y="593" width="3" height="51" fill="#00ff00"/>
<rect x="380" y="593" width="3" height="59" fill="#00ff00"/>
<rect x="388" y="593" width="3" height="65" fill="#00ff00"/>
<rect x="396" y="593" width="3" height="72" fill="#00ff00"/>
<rect x="404" y="593" width="3" height="78" fill="#00ff00"/>
<rect x="412" y="593" width="3" height="83" fill="#00ff00"/>
<rect x="420" y="593" width="3" height="88" fill="#00ff00"/>
<rect x="428" y="593" width="3" height="91" fill="#00ff00"/>
<rect x="436" y="593" width="3" height="91" fill="#00ff00"/>
<rect x="444" y="593" width="3" height="86" fill="#00ff00"/>
<rect x="452" y="593" width="3" height="84" fill="#00ff00"/>
<rect x="460" y="593" width="3" height="84" fill="#00ff00"/>
<rect x="468" y="593" width="3" height="83" fill="#00ff00"/>
<rect x="476" y="593" width="3" height="79" fill="#00ff00"/>
<rect x="484" y="593" width="3" height="74" fill="#00ff00"/>
<rect x="492" y="593" width="3" height="67" fill="#00ff00"/>
<rect x="500" y="593" width="3" height="62" fill="#00ff00"/>
<rect x="508" y="593" width="3" height="65" fill="#00ff00"/>
<rect x="516" y="593" width="3" height="59" fill="#00ff00"/>
<rect x="524" y="593" width="3" height="54" fill="#00ff00"/>
<rect x="532" y="593" width="3" height="50" fill="#00ff00"/>
<rect x="540" y="593" width="3" height="52" fill="#00ff00"/>
<rect x="548" y="593" width="3" height="53" fill="#00ff00"/>
<rect x="556" y="593" width="3" height="40" fill="#00ff00"/>
<rect x="564" y="593" width="3" height="25" fill="#00ff00"/>
<rect x="572" y="593" width="3" height="15" fill="#00ff00"/>
<rect x="580" y="593" width="3" height="10" fill="#00ff00"/>
<rect x="588" y="593" width="3" height="6" fill="#00ff00"/>
<rect x="596" y="593" width="3" height="6" fill="#00ff00"/>
<rect x="604" y="593" width="3" height="7" fill="#00ff00"/>
<rect x="612" y="593" width="3" height="6" fill="#00ff00"/>
<rect x="620" y="593" width="3" height="5" fill="#00ff00"/>
<rect x="628" y="593" width="3" height="1" fill="#00ff00"/>
<rect x="636" y="591" width="3" height="2" fill="#00ff00"/>
<rect x="644" y="588" width="3" height="5" fill="#00ff00"/>
<rect x="652" y="585" width="3" height="8" fill="#00ff00"/>
<rect x="660" y="585" width="3" height="8" fill="#00ff00"/>
<rect x="668" y="585" width="3" height="8" fill="#00ff00"/>
<rect x="676" y="583" width="3" height="10" fill="#00ff00"/>
<rect x="684" y="579" width="3" height="14" fill="#00ff00"/>
<rect x="692" y="577" width="3" height="16" fill="#00ff00"/>
<rect x="700" y="576" width="3" height="17" fill="#00ff00"/>
<rect x="708" y="577" width="3" height="16" fill="#00ff00"/>
<rect x="716" y="578" width="3" height="15" fill="#00ff00"/>
<rect x="724" y="580" width="3" height="13" fill="#00ff00"/>
<rect x="732" y="584" width="3" height="9" fill="#00ff00"/>
<rect x="740" y="586" width="3" height="7" fill="#00ff00"/>
<rect x="748" y="580" width="3" height="13" fill="#00ff00"/>
<rect x="756" y="578" width="3" height="15" fill="#00ff00"/>
<rect x="764" y="576" width="3" height="17" fill="#00ff00"/>
<rect x="772" y="574" width="3" height="19" fill="#00ff00"/>
<rect x="780" y="580" width="3" height="13" fill="#00ff00"/>
<rect x="788" y="584" width="3" height="9" fill="#00ff00"/>
<rect x="796" y="587" width="3" height="6" fill="#00ff00"/>
<rect x="804" y="588" width="3" height="5" fill="#00ff00"/>
<rect x="812" y="589" width="3" height="4" fill="#00ff00"/>
<rect x="820" y="589" width="3" height="4" fill="#00ff00"/>
<rect x="828" y="590" width="3" height="3" fill="#00ff00"/>
<rect x="836" y="591" width="3" height="2" fill="#00ff00"/>
<rect x="844" y="590" width="3" height="3" fill="#00ff00"/>
<rect x="852" y="590" width="3" height="3" fill="#00ff00"/>
<rect x="860" y="585" width="3" height="8" fill="#00ff00"/>
<rect x="868" y="584" width="3" height="9" fill="#00ff00"/>
<rect x="876" y="580" width="3" height="13" fill="#00ff00"/>
<rect x="884" y="579" width="3" height="14" fill="#00ff00"/>
<rect x="892" y="575" width="3" height="18" fill="#00ff00"/>
<rect x="900" y="574" width="3" height="19" fill="#00ff00"/>
<rect x="908" y="573" width="3" height="20" fill="#00ff00"/>
<rect x="916" y="573" width="3" height="20" fill="#00ff00"/>
<rect x="924" y="573" width="3" height="20" fill="#00ff00"/>
<rect x="932" y="574" width="3" height="19" fill="#00ff00"/>
<rect x="940" y="579" width="3" height="14" fill="#00ff00"/>
<rect x="948" y="584" width="3" height="9" fill="#00ff00"/>
<rect x="956" y="588" width="3" height="5" fill="#00ff00"/>
<rect x="964" y="591" width="3" height="2" fill="#00ff00"/>
<rect x="972" y="593" width="3" height="2" fill="#00ff00"/>
<rect x="980" y="593" width="3" height="4" fill="#00ff00"/>
<rect x="988" y="593" width="3" height="10" fill="#00ff00"/>
<rect x="996" y="593" width="3" height="18" fill="#00ff00"/>
<rect x="1004" y="593" width="3" height="24" fill="#00ff00"/>
<rect x="1012" y="593" width="3" height="28" fill="#00ff00"/>
<rect x="1020" y="593" width="3" height="31" fill="#00ff00"/>
<rect x="1028" y="593" width="3" height="38" fill="#00ff00"/>
<rect x="1036" y="593" width="3" height="36" fill="#00ff00"/>
<rect x="1044" y="593" width="3" height="33" fill="#00ff00"/>
<rect x="1052" y="593" width="3" height="30" fill="#00ff00"/>
<rect x="1060" y="593" width="3" height="31" fill="#00ff00"/>
<rect x="1068" y="593" width="3" height="32" fill="#00ff00"/>
<rect x="1076" y="593" width="3" height="33" fill="#00ff00"/>
<rect x="1084" y="593" width="3" height="35" fill="#00ff00"/>
<rect x="1092" y="593" width="3" height="35" fill="#00ff00"/>
<rect x="1100" y="593" width="3" height="34" fill="#00ff00"/>
<rect x="1108" y="593" width="3" height="34" fill="#00ff00"/>
<rect x="1116" y="593" width="3" height="31" fill="#00ff00"/>
<rect x="1124" y="593" width="3" height="29" fill="#00ff00"/>
<rect x="1132" y="593" width="3" height="29" fill="#00ff00"/>
<rect x="1140" y="593" width="3" height="29" fill="#00ff00"/>
<rect x="1148" y="593" width="3" height="27" fill="#00ff00"/>
<rect x="1156" y="593" width="3" height="25" fill="#00ff00"/>
<rect x="1164" y="593" width="3" height="30" fill="#00ff00"/>
<rect x="1172" y="593" width="3" height="41" fill="#00ff00"/>
<rect x="1180" y="593" width="3" height="53" fill="#00ff00"/>
<rect x="1188" y="593" width="3" height="60" fill="#00ff00"/>
<rect x="1196" y="593" width="3" height="67" fill="#00ff00"/>
<rect x="1204" y="593" width="3" height="70" fill="#00ff00"/>
<rect x="1212" y="593" width="3" height="73" fill="#00ff00"/>
<rect x="1220" y="593" width="3" height="80" fill="#00ff00"/>
<rect x="1228" y="593" width="3" height="88" fill="#00ff00"/>
<rect x="1236" y="593" width="3" height="91" fill="#00ff00"/>
<rect x="1244" y="593" width="3" height="92" fill="#00ff00"/>
<rect x="1252" y="593" width="3" height="91" fill="#00ff00"/>
<rect x="1260" y="593" width="3" height="90" fill="#00ff00"/>
<rect x="1268" y="593" width="3" height="88" fill="#00ff00"/>
<rect x="1276" y="593" width="3" height="89" fill="#00ff00"/>
<rect x="1284" y="593" width="3" height="88" fill="#00ff00"/>
<rect x="1292" y="593" width="3" height="87" fill="#00ff00"/>
</g>
<polyline points="0.5,566.0 16.3,572.5 77.5,599.8 86.5,601.3 100.5,601.3 109.9,599.1 125.7,594.8 134.3,591.2 150.1,587.6 158.8,586.5 173.2,586.5 189.0,588.3 206.3,591.5 220.5,595.5 229.1,596.2 237.8,599.1 251.5,601.3 269.5,601.3 278.1,599.5 295.3,597.7 311.1,594.4 325.5,594.4 341.4,598.4 358.6,604.9 370.1,612.8 380.2,620.7 393.2,631.5 407.5,643.7 421.9,656.0 432.0,664.6 440.5,669.6 449.1,673.2 462.1,677.2 485.1,677.2 498.1,673.2 512.5,668.2 526.8,662.4 541.2,655.2 549.9,653.1 559.9,648.0 577.2,635.8 591.5,625.0 606.0,616.4 620.4,606.3 634.7,599.8 649.1,596.2 660.5,594.5 674.9,590.7 689.3,586.7 702.2,583.4 718.1,581.7 727.4,580.2 765.5,580.2 768.4,579.2 772.7,579.2 774.9,580.2 789.3,580.2 791.4,581.2 805.1,581.2 807.3,582.4 813.0,582.4 815.2,583.4 821.7,583.4 823.1,584.3 829.6,584.3 834.6,586.4 841.8,588.2 846.8,589.6 869.1,589.6 872.0,588.4 876.3,588.4 879.2,587.4 885.0,587.1 893.5,585.5 909.3,581.5 926.5,577.6 935.2,576.5 949.5,576.5 958.2,577.6 972.5,581.2 987.0,586.2 998.5,592.0 1005.7,597.0 1014.3,600.6 1021.5,605.7 1030.1,610.0 1038.8,614.3 1046.0,617.9 1053.2,620.8 1061.8,622.9 1070.5,624.1 1079.1,625.4 1100.5,625.6 1134.3,625.0 1158.1,623.6 1173.9,623.6 1182.5,626.0 1194.0,630.1 1204.1,636.5 1214.2,643.0 1224.2,649.5 1234.3,658.8 1244.4,666.7 1253.0,671.5 1261.7,674.9 1270.3,678.3 1278.9,680.4 1286.1,681.4 1294.5,681.4" fill="none" stroke="#ff0000" stroke-width="2" shape-rendering="crispEdges" stroke-linejoin="round"/>
<g shape-rendering="crispEdges">
<line x1="0" y1="718.5" x2="1626" y2="718.5" stroke="#000" stroke-width="1" stroke-dasharray="3,3" stroke-dashoffset="4"/>
<line x1="0" y1="754.5" x2="1626" y2="754.5" stroke="#000" stroke-width="1" stroke-dasharray="3,3" stroke-dashoffset="4"/>
<line x1="0" y1="796.5" x2="1626" y2="796.5" stroke="#000" stroke-width="1" stroke-dasharray="3,3" stroke-dashoffset="4"/>
</g>
<polyline points="0.5,752.4 5.5,757.4 13.5,757.8 21.5,759.6 29.5,774.4 37.5,772.8 45.5,772.5 53.5,772.5 61.5,759.6 69.5,757.0 77.5,746.6 85.5,742.6 93.5,742.3 101.5,741.9 109.5,741.1 117.5,750.2 125.5,756.4 133.5,753.4 141.5,751.7 149.5,751.2 157.5,747.0 165.5,750.2 173.5,761.0 181.5,761.4 189.5,763.9 197.5,765.3 205.5,764.6 213.5,770.4 221.5,757.4 229.5,755.2 237.5,758.1 245.5,761.4 253.5,760.3 261.5,745.2 269.5,745.2 277.5,753.4 285.5,753.1 293.5,749.2 301.5,756.4 309.5,750.2 317.5,765.3 325.5,772.5 333.5,772.5 341.5,768.6 349.5,768.6 357.5,776.8 365.5,782.3 373.5,782.3 381.5,784.5 389.5,784.7 397.5,788.3 405.5,789.1 413.5,789.8 421.5,791.5 429.5,791.5 437.5,785.5 445.5,774.0 453.5,776.5 461.5,780.4 469.5,780.4 477.5,773.5 485.5,772.5 493.5,765.3 501.5,766.3 509.5,777.5 517.5,761.4 525.5,761.8 533.5,763.6 541.5,771.4 549.5,771.4 557.5,748.1 565.5,745.2 573.5,746.6 581.5,750.2 589.5,750.2 597.5,756.4 605.5,757.4 613.5,754.5 621.5,753.8 629.5,749.5 637.5,750.2 645.5,750.2 653.5,748.3 661.5,752.4 669.5,752.4 677.5,749.2 685.5,745.5 693.5,746.3 701.5,746.6 709.5,750.2 717.5,750.2 725.5,756.0 733.5,757.4 741.5,756.4 749.5,741.1 757.5,744.5 765.5,744.5 773.5,744.5 781.5,759.3 789.5,760.3 797.5,760.3 805.5,754.1 813.5,755.2 821.5,753.4 829.5,754.1 837.5,756.4 845.5,750.2 853.5,748.8 861.5,745.2 869.5,747.3 877.5,741.1 885.5,746.3 893.5,741.1 901.5,745.2 909.5,745.2 917.5,745.2 925.5,745.2 933.5,749.5 941.5,760.3 949.5,762.0 957.5,762.0 965.5,760.3 973.5,763.2 981.5,762.0 989.5,772.8 997.5,778.3 1005.5,776.8 1013.5,775.4 1021.5,775.4 1029.5,783.3 1037.5,761.4 1045.5,759.9 1053.5,759.9 1061.5,765.3 1069.5,766.3 1077.5,767.5 1085.5,772.5 1093.5,767.5 1101.5,766.3 1109.5,766.3 1117.5,766.3 1125.5,759.6 1133.5,765.3 1141.5,765.3 1149.5,762.0 1157.5,762.0 1165.5,774.7 1173.5,784.7 1181.5,787.2 1189.5,785.2 1197.5,785.2 1205.5,783.3 1213.5,783.7 1221.5,789.8 1229.5,791.5 1237.5,786.6 1245.5,786.2 1253.5,781.4 1261.5,781.4 1269.5,782.6 1277.5,785.2 1285.5,783.3 1293.5,784.5" fill="none" stroke="#1e90ff" stroke-width="2" shape-rendering="crispEdges" stroke-linejoin="round"/>
<g fill="#4c9a2a" stroke="none">
<polygon points="1112.7,393.0 1277.0,513.6 1279.0,510.8 1114.7,390.2"/>
<polygon points="1290.8,522.5 1282.5,504.9 1272,518.9"/>
</g>
<g shape-rendering="crispEdges">
<rect x="1627" y="55" width="2" height="1" fill="#000"/>
<rect x="1627" y="88" width="2" height="1" fill="#000"/>
<rect x="1627" y="121" width="2" height="1" fill="#000"/>
<rect x="1627" y="154" width="2" height="1" fill="#000"/>
<rect x="1627" y="187" width="2" height="1" fill="#000"/>
<rect x="1627" y="220" width="2" height="1" fill="#000"/>
<rect x="1627" y="253" width="2" height="1" fill="#000"/>
<rect x="1627" y="286" width="2" height="1" fill="#000"/>
<rect x="1627" y="319" width="2" height="1" fill="#000"/>
<rect x="1627" y="352" width="2" height="1" fill="#000"/>
<rect x="1627" y="385" width="2" height="1" fill="#000"/>
<rect x="1627" y="418" width="2" height="1" fill="#000"/>
<rect x="1627" y="451" width="2" height="1" fill="#000"/>
<rect x="1627" y="484" width="2" height="1" fill="#000"/>
<rect x="1627" y="517" width="2" height="1" fill="#000"/>
<rect x="1627" y="550" width="2" height="1" fill="#000"/>
<rect x="1627" y="556" width="1" height="1" fill="#000"/>
<rect x="1627" y="691" width="1" height="1" fill="#000"/>
<rect x="1627" y="593" width="2" height="1" fill="#000"/>
<rect x="1627" y="694" width="1" height="1" fill="#000"/>
<rect x="1627" y="718" width="1" height="1" fill="#000"/>
<rect x="1627" y="754" width="1" height="1" fill="#000"/>
<rect x="1627" y="796" width="1" height="1" fill="#000"/>
<rect x="1627" y="814" width="1" height="1" fill="#000"/>
<rect x="53" y="815" width="1" height="3" fill="#000"/>
<rect x="117" y="815" width="1" height="3" fill="#000"/>
<rect x="181" y="815" width="1" height="3" fill="#000"/>
<rect x="245" y="815" width="1" height="3" fill="#000"/>
<rect x="309" y="815" width="1" height="3" fill="#000"/>
<rect x="373" y="815" width="1" height="3" fill="#000"/>
<rect x="437" y="815" width="1" height="3" fill="#000"/>
<rect x="501" y="815" width="1" height="3" fill="#000"/>
<rect x="565" y="815" width="1" height="3" fill="#000"/>
<rect x="629" y="815" width="1" height="3" fill="#000"/>
<rect x="693" y="815" width="1" height="3" fill="#000"/>
<rect x="757" y="815" width="1" height="3" fill="#000"/>
<rect x="821" y="815" width="1" height="3" fill="#000"/>
<rect x="885" y="815" width="1" height="3" fill="#000"/>
<rect x="949" y="815" width="1" height="3" fill="#000"/>
<rect x="1013" y="815" width="1" height="3" fill="#000"/>
<rect x="1077" y="815" width="1" height="3" fill="#000"/>
<rect x="1141" y="815" width="1" height="3" fill="#000"/>
<rect x="1205" y="815" width="1" height="3" fill="#000"/>
<rect x="1269" y="815" width="1" height="3" fill="#000"/>
</g>
<text x="1632" y="59" font-size="9.6" fill="#000" stroke="#000" stroke-width="0.15" text-anchor="start" textLength="33" lengthAdjust="spacingAndGlyphs">1.08255</text>
<text x="1632" y="92" font-size="9.6" fill="#000" stroke="#000" stroke-width="0.15" text-anchor="start" textLength="33" lengthAdjust="spacingAndGlyphs">1.07745</text>
<text x="1632" y="125" font-size="9.6" fill="#000" stroke="#000" stroke-width="0.15" text-anchor="start" textLength="33" lengthAdjust="spacingAndGlyphs">1.07235</text>
<text x="1632" y="158" font-size="9.6" fill="#000" stroke="#000" stroke-width="0.15" text-anchor="start" textLength="33" lengthAdjust="spacingAndGlyphs">1.06740</text>
<text x="1632" y="191" font-size="9.6" fill="#000" stroke="#000" stroke-width="0.15" text-anchor="start" textLength="33" lengthAdjust="spacingAndGlyphs">1.06230</text>
<text x="1632" y="224" font-size="9.6" fill="#000" stroke="#000" stroke-width="0.15" text-anchor="start" textLength="33" lengthAdjust="spacingAndGlyphs">1.05735</text>
<text x="1632" y="257" font-size="9.6" fill="#000" stroke="#000" stroke-width="0.15" text-anchor="start" textLength="33" lengthAdjust="spacingAndGlyphs">1.05225</text>
<text x="1632" y="290" font-size="9.6" fill="#000" stroke="#000" stroke-width="0.15" text-anchor="start" textLength="33" lengthAdjust="spacingAndGlyphs">1.04715</text>
<text x="1632" y="323" font-size="9.6" fill="#000" stroke="#000" stroke-width="0.15" text-anchor="start" textLength="33" lengthAdjust="spacingAndGlyphs">1.04220</text>
<text x="1632" y="356" font-size="9.6" fill="#000" stroke="#000" stroke-width="0.15" text-anchor="start" textLength="33" lengthAdjust="spacingAndGlyphs">1.03710</text>
<text x="1632" y="389" font-size="9.6" fill="#000" stroke="#000" stroke-width="0.15" text-anchor="start" textLength="33" lengthAdjust="spacingAndGlyphs">1.03215</text>
<text x="1632" y="422" font-size="9.6" fill="#000" stroke="#000" stroke-width="0.15" text-anchor="start" textLength="33" lengthAdjust="spacingAndGlyphs">1.02705</text>
<text x="1632" y="455" font-size="9.6" fill="#000" stroke="#000" stroke-width="0.15" text-anchor="start" textLength="33" lengthAdjust="spacingAndGlyphs">1.02185</text>
<text x="1632" y="488" font-size="9.6" fill="#000" stroke="#000" stroke-width="0.15" text-anchor="start" textLength="33" lengthAdjust="spacingAndGlyphs">1.01700</text>
<text x="1632" y="521" font-size="9.6" fill="#000" stroke="#000" stroke-width="0.15" text-anchor="start" textLength="33" lengthAdjust="spacingAndGlyphs">1.01190</text>
<text x="1632" y="554" font-size="9.6" fill="#000" stroke="#000" stroke-width="0.15" text-anchor="start" textLength="33" lengthAdjust="spacingAndGlyphs">1.00695</text>
<g shape-rendering="crispEdges">
<rect x="1628" y="429" width="41" height="11" fill="#ff0000"/>
<rect x="1628" y="452" width="41" height="11" fill="#ff0000"/>
<rect x="1628" y="477" width="41" height="11" fill="#ffa500"/>
<rect x="1628" y="492" width="41" height="11" fill="#000"/>
<rect x="1628" y="517" width="41" height="11" fill="#0000ff"/>
<rect x="1628" y="541" width="41" height="11" fill="#0000ff"/>
</g>
<text x="1632" y="439" font-size="9.6" fill="#fff" stroke="#fff" stroke-width="0.15" text-anchor="start" textLength="33" lengthAdjust="spacingAndGlyphs">1.02442</text>
<text x="1632" y="462" font-size="9.6" fill="#fff" stroke="#fff" stroke-width="0.15" text-anchor="start" textLength="33" lengthAdjust="spacingAndGlyphs">1.02095</text>
<text x="1632" y="487" font-size="9.6" fill="#fff" stroke="#fff" stroke-width="0.15" text-anchor="start" textLength="33" lengthAdjust="spacingAndGlyphs">1.01708</text>
<text x="1632" y="502" font-size="9.6" fill="#fff" stroke="#fff" stroke-width="0.15" text-anchor="start" textLength="33" lengthAdjust="spacingAndGlyphs">1.01492</text>
<text x="1632" y="527" font-size="9.6" fill="#fff" stroke="#fff" stroke-width="0.15" text-anchor="start" textLength="33" lengthAdjust="spacingAndGlyphs">1.01096</text>
<text x="1632" y="551" font-size="9.6" fill="#fff" stroke="#fff" stroke-width="0.15" text-anchor="start" textLength="33" lengthAdjust="spacingAndGlyphs">1.00730</text>
<text x="1630.5" y="566" font-size="9.6" fill="#000" stroke="#000" stroke-width="0.15" text-anchor="start" textLength="37.8" lengthAdjust="spacingAndGlyphs">0.002949</text>
<text x="1630.5" y="597" font-size="9.6" fill="#000" stroke="#000" stroke-width="0.15" text-anchor="start" textLength="17.8" lengthAdjust="spacingAndGlyphs">0.00</text>
<text x="1630.5" y="688" font-size="9.6" fill="#000" stroke="#000" stroke-width="0.15" text-anchor="start" textLength="40.5" lengthAdjust="spacingAndGlyphs">-0.007895</text>
<text x="1630" y="704" font-size="9.6" fill="#000" stroke="#000" stroke-width="0.15" text-anchor="start" textLength="15" lengthAdjust="spacingAndGlyphs">100</text>
<text x="1630" y="722" font-size="9.6" fill="#000" stroke="#000" stroke-width="0.15" text-anchor="start" textLength="10" lengthAdjust="spacingAndGlyphs">80</text>
<text x="1630" y="758" font-size="9.6" fill="#000" stroke="#000" stroke-width="0.15" text-anchor="start" textLength="10" lengthAdjust="spacingAndGlyphs">50</text>
<text x="1630" y="800" font-size="9.6" fill="#000" stroke="#000" stroke-width="0.15" text-anchor="start" textLength="10" lengthAdjust="spacingAndGlyphs">15</text>
<text x="1630" y="811" font-size="9.6" fill="#000" stroke="#000" stroke-width="0.15" text-anchor="start" textLength="5" lengthAdjust="spacingAndGlyphs">0</text>
<text x="4.5" y="38" font-size="9.6" fill="#000" stroke="#000" stroke-width="0.15" text-anchor="start" textLength="203" lengthAdjust="spacingAndGlyphs" xml:space="preserve">EURUSD-,H4&#160;&#160;1.01655 1.01655 1.01492 1.01492</text>
<text x="-7" y="568" font-size="9.6" fill="#000" stroke="#000" stroke-width="0.15" text-anchor="start" textLength="154" lengthAdjust="spacingAndGlyphs">MACD(12,26,9) -0.006966 -0.007132</text>
<text x="-7" y="706" font-size="9.6" fill="#000" stroke="#000" stroke-width="0.15" text-anchor="start" textLength="68" lengthAdjust="spacingAndGlyphs">RSI(14) 24.4712</text>
<text x="-10" y="827" font-size="9.6" fill="#000" stroke="#000" stroke-width="0.15" text-anchor="start" textLength="53" lengthAdjust="spacingAndGlyphs">31 May 2022</text>
<text x="52" y="827" font-size="9.6" fill="#000" stroke="#000" stroke-width="0.15" text-anchor="start" textLength="47.7" lengthAdjust="spacingAndGlyphs">2 Jun 00:00</text>
<text x="116" y="827" font-size="9.6" fill="#000" stroke="#000" stroke-width="0.15" text-anchor="start" textLength="47.7" lengthAdjust="spacingAndGlyphs">3 Jun 08:00</text>
<text x="180" y="827" font-size="9.6" fill="#000" stroke="#000" stroke-width="0.15" text-anchor="start" textLength="47.7" lengthAdjust="spacingAndGlyphs">6 Jun 16:00</text>
<text x="244" y="827" font-size="9.6" fill="#000" stroke="#000" stroke-width="0.15" text-anchor="start" textLength="47.7" lengthAdjust="spacingAndGlyphs">8 Jun 00:00</text>
<text x="308" y="827" font-size="9.6" fill="#000" stroke="#000" stroke-width="0.15" text-anchor="start" textLength="47.7" lengthAdjust="spacingAndGlyphs">9 Jun 08:00</text>
<text x="372" y="827" font-size="9.6" fill="#000" stroke="#000" stroke-width="0.15" text-anchor="start" textLength="52.7" lengthAdjust="spacingAndGlyphs">10 Jun 16:00</text>
<text x="436" y="827" font-size="9.6" fill="#000" stroke="#000" stroke-width="0.15" text-anchor="start" textLength="52.7" lengthAdjust="spacingAndGlyphs">14 Jun 00:00</text>
<text x="500" y="827" font-size="9.6" fill="#000" stroke="#000" stroke-width="0.15" text-anchor="start" textLength="52.7" lengthAdjust="spacingAndGlyphs">15 Jun 08:00</text>
<text x="564" y="827" font-size="9.6" fill="#000" stroke="#000" stroke-width="0.15" text-anchor="start" textLength="52.7" lengthAdjust="spacingAndGlyphs">16 Jun 16:00</text>
<text x="628" y="827" font-size="9.6" fill="#000" stroke="#000" stroke-width="0.15" text-anchor="start" textLength="52.7" lengthAdjust="spacingAndGlyphs">20 Jun 00:00</text>
<text x="692" y="827" font-size="9.6" fill="#000" stroke="#000" stroke-width="0.15" text-anchor="start" textLength="52.7" lengthAdjust="spacingAndGlyphs">21 Jun 08:00</text>
<text x="756" y="827" font-size="9.6" fill="#000" stroke="#000" stroke-width="0.15" text-anchor="start" textLength="52.7" lengthAdjust="spacingAndGlyphs">22 Jun 16:00</text>
<text x="820" y="827" font-size="9.6" fill="#000" stroke="#000" stroke-width="0.15" text-anchor="start" textLength="52.7" lengthAdjust="spacingAndGlyphs">24 Jun 00:00</text>
<text x="884" y="827" font-size="9.6" fill="#000" stroke="#000" stroke-width="0.15" text-anchor="start" textLength="52.7" lengthAdjust="spacingAndGlyphs">27 Jun 08:00</text>
<text x="948" y="827" font-size="9.6" fill="#000" stroke="#000" stroke-width="0.15" text-anchor="start" textLength="52.7" lengthAdjust="spacingAndGlyphs">28 Jun 16:00</text>
<text x="1012" y="827" font-size="9.6" fill="#000" stroke="#000" stroke-width="0.15" text-anchor="start" textLength="52.7" lengthAdjust="spacingAndGlyphs">30 Jun 00:00</text>
<text x="1076" y="827" font-size="9.6" fill="#000" stroke="#000" stroke-width="0.15" text-anchor="start" textLength="44.6" lengthAdjust="spacingAndGlyphs">1 Jul 08:00</text>
<text x="1140" y="827" font-size="9.6" fill="#000" stroke="#000" stroke-width="0.15" text-anchor="start" textLength="44.6" lengthAdjust="spacingAndGlyphs">4 Jul 16:00</text>
<text x="1204" y="827" font-size="9.6" fill="#000" stroke="#000" stroke-width="0.15" text-anchor="start" textLength="44.6" lengthAdjust="spacingAndGlyphs">6 Jul 00:00</text>
<text x="1268" y="827" font-size="9.6" fill="#000" stroke="#000" stroke-width="0.15" text-anchor="start" textLength="44.6" lengthAdjust="spacingAndGlyphs">7 Jul 08:00</text>
<g shape-rendering="crispEdges">
<rect x="1293" y="27" width="9" height="1" fill="#000"/>
<rect x="1294" y="28" width="7" height="1" fill="#000"/>
<rect x="1295" y="29" width="5" height="1" fill="#000"/>
<rect x="1296" y="30" width="3" height="1" fill="#000"/>
<rect x="1297" y="31" width="1" height="1" fill="#000"/>
</g>
<g id="toolbar">
<g shape-rendering="crispEdges">
<rect x="0" y="0" width="1673" height="22" fill="#f0f0f0"/>
<rect x="0" y="21" width="1673" height="1" fill="#f8f8f8"/>
<rect x="0" y="22" width="1673" height="1" fill="#a0a0a0"/>
<rect x="0" y="23" width="1673" height="1" fill="#696969"/>
<rect x="0" y="20" width="58" height="1" fill="#a0a0a0"/>
<rect x="57" y="0" width="1" height="21" fill="#a0a0a0"/>
<rect x="0" y="19" width="57" height="1" fill="#f6f6f6"/>
<rect x="56" y="0" width="1" height="20" fill="#f6f6f6"/>
<rect x="223" y="0" width="1" height="21" fill="#a0a0a0"/><rect x="224" y="0" width="1" height="21" fill="#fff"/>
<rect x="318" y="0" width="1" height="21" fill="#a0a0a0"/><rect x="319" y="0" width="1" height="21" fill="#fff"/>
<rect x="408" y="0" width="1" height="21" fill="#a0a0a0"/><rect x="409" y="0" width="1" height="21" fill="#fff"/>
<rect x="470" y="0" width="1" height="21" fill="#a0a0a0"/><rect x="471" y="0" width="1" height="21" fill="#fff"/>
<rect x="591" y="0" width="1" height="21" fill="#a0a0a0"/><rect x="592" y="0" width="1" height="21" fill="#fff"/>
<rect x="658" y="0" width="1" height="21" fill="#a0a0a0"/><rect x="659" y="0" width="1" height="21" fill="#fff"/>
<rect x="897" y="0" width="1" height="21" fill="#a0a0a0"/><rect x="898" y="0" width="1" height="21" fill="#fff"/>
<rect x="1158" y="0" width="1" height="21" fill="#a0a0a0"/><rect x="1159" y="0" width="1" height="21" fill="#fff"/>
<rect x="441" y="0" width="1" height="20" fill="#a0a0a0"/>
<rect x="227" y="0" width="3" height="1" fill="#b0b0b0"/>
<rect x="227" y="2" width="3" height="1" fill="#b0b0b0"/>
<rect x="227" y="4" width="3" height="1" fill="#b0b0b0"/>
<rect x="227" y="6" width="3" height="1" fill="#b0b0b0"/>
<rect x="227" y="8" width="3" height="1" fill="#b0b0b0"/>
<rect x="227" y="10" width="3" height="1" fill="#b0b0b0"/>
<rect x="227" y="12" width="3" height="1" fill="#b0b0b0"/>
<rect x="227" y="14" width="3" height="1" fill="#b0b0b0"/>
<rect x="227" y="16" width="3" height="1" fill="#b0b0b0"/>
<rect x="227" y="18" width="3" height="1" fill="#b0b0b0"/>
<rect x="595" y="0" width="3" height="1" fill="#b0b0b0"/>
<rect x="595" y="2" width="3" height="1" fill="#b0b0b0"/>
<rect x="595" y="4" width="3" height="1" fill="#b0b0b0"/>
<rect x="595" y="6" width="3" height="1" fill="#b0b0b0"/>
<rect x="595" y="8" width="3" height="1" fill="#b0b0b0"/>
<rect x="595" y="10" width="3" height="1" fill="#b0b0b0"/>
<rect x="595" y="12" width="3" height="1" fill="#b0b0b0"/>
<rect x="595" y="14" width="3" height="1" fill="#b0b0b0"/>
<rect x="595" y="16" width="3" height="1" fill="#b0b0b0"/>
<rect x="595" y="18" width="3" height="1" fill="#b0b0b0"/>
<rect x="901" y="0" width="3" height="1" fill="#b0b0b0"/>
<rect x="901" y="2" width="3" height="1" fill="#b0b0b0"/>
<rect x="901" y="4" width="3" height="1" fill="#b0b0b0"/>
<rect x="901" y="6" width="3" height="1" fill="#b0b0b0"/>
<rect x="901" y="8" width="3" height="1" fill="#b0b0b0"/>
<rect x="901" y="10" width="3" height="1" fill="#b0b0b0"/>
<rect x="901" y="12" width="3" height="1" fill="#b0b0b0"/>
<rect x="901" y="14" width="3" height="1" fill="#b0b0b0"/>
<rect x="901" y="16" width="3" height="1" fill="#b0b0b0"/>
<rect x="901" y="18" width="3" height="1" fill="#b0b0b0"/>
<rect x="262" y="0" width="25" height="21" fill="#f8f8f8"/>
<rect x="414" y="0" width="24" height="21" fill="#f8f8f8"/>
<rect x="442" y="0" width="24" height="21" fill="#f8f8f8"/>
<rect x="602" y="0" width="24" height="21" fill="#f8f8f8"/>
<rect x="1048" y="0" width="24" height="21" fill="#f8f8f8"/>
<rect x="1047" y="0" width="1" height="20" fill="#a0a0a0"/>
<rect x="261" y="0" width="1" height="20" fill="#a0a0a0"/>
<rect x="413" y="0" width="1" height="20" fill="#a0a0a0"/>
<rect x="601" y="0" width="1" height="20" fill="#a0a0a0"/>
</g>
<text x="14.4" y="12.3" font-size="12.3" fill="#000" textLength="36.9" lengthAdjust="spacingAndGlyphs" style="font-family:'Liberation Sans','Noto Sans CJK SC',sans-serif">新订单</text>
<text x="168.2" y="12.8" font-size="11.8" fill="#000" textLength="47.2" lengthAdjust="spacingAndGlyphs" style="font-family:'Liberation Sans','Noto Sans CJK SC',sans-serif">自动交易</text>
<path d="M-1,1.4 h6 l2.7,2.7 v7 h-8.7z" fill="#fdfdfd" stroke="#9a9a9a" stroke-width="0.9"/>
<path d="M5,1.4 v2.7 h2.7" fill="none" stroke="#9a9a9a" stroke-width="0.8"/>
<path d="M0,4.2 h1.2 M0,7.4 h3 M0,9.4 h3" stroke="#a8a8a8" stroke-width="1"/>
<path d="M3.9,7.2 h4.2 v4.3 h3.9 v3.2 h-3.9 v4.1 h-4.2 v-4.1 h-4.3 v-3.2 h4.3z" fill="#20e030" stroke="#12b012" stroke-width="0.6"/>
<path d="M0,12.6 h11.2" stroke="#80f890" stroke-width="0.9" opacity="0.8"/>
<defs><linearGradient id="gg" x1="0.2" y1="0" x2="0.8" y2="1"><stop offset="0" stop-color="#f6d440"/><stop offset="0.55" stop-color="#f2c21c"/><stop offset="1" stop-color="#dc9c10"/></linearGradient><linearGradient id="cg" x1="0" y1="0" x2="0" y2="1"><stop offset="0" stop-color="#ffffff"/><stop offset="1" stop-color="#b4c2da"/></linearGradient></defs>
<path d="M69.4,2.9 L79,9.5 L79.8,12 L72,17.8 L64,12 C66.4,9.8 68.4,6.4 69.4,2.9Z" fill="#a8700e"/>
<path d="M69.9,4.4 L77.9,9.9 L72.6,14.3 L66.3,10.7 C67.9,8.9 69.1,6.8 69.9,4.4Z" fill="url(#gg)"/>
<path d="M65.4,12 L72.2,16.5 L78.6,12 L78.2,10.9 L72.6,15.2 L66,11.2Z" fill="#f0c850"/>
<path d="M94,2.8 L98,2.2 L105.3,3.8 L105.3,11.2 L94,11.2Z" fill="#1c92f0"/>
<path d="M94,2.8 L97.3,3.7 L97.3,11.2 L94,11.2Z" fill="#30a4fa"/>
<path d="M94,2.8 L98,2.2 L105.3,3.8 L102,4.3 L97.3,3.7Z" fill="#5890ea"/>
<path d="M97.3,3.7 V10.5" stroke="#d0ecff" stroke-width="0.7"/>
<rect x="99.2" y="6.2" width="4.5" height="1.4" fill="#c4e6ff"/>
<circle cx="94.7" cy="14.4" r="3.35" fill="#4666a6"/>
<circle cx="99.4" cy="13.2" r="3.6500000000000004" fill="#4666a6"/>
<circle cx="104.6" cy="14.2" r="3.5500000000000003" fill="#4666a6"/>
<rect x="94.2" y="14" width="11" height="3.9" fill="#4666a6"/>
<circle cx="94.7" cy="14.4" r="2.4499999999999997" fill="url(#cg)"/>
<circle cx="99.4" cy="13.2" r="2.75" fill="url(#cg)"/>
<circle cx="104.6" cy="14.2" r="2.65" fill="url(#cg)"/>
<rect x="94.4" y="13.6" width="10.6" height="3.5" fill="#dfe6f2"/>
<rect x="94.4" y="15.4" width="10.6" height="1.7" fill="#c0cce0"/>
<defs><linearGradient id="rg" x1="0" y1="0" x2="1" y2="0.6"><stop offset="0" stop-color="#4a74d8"/><stop offset="0.5" stop-color="#a8c4e6"/><stop offset="1" stop-color="#4aa060"/></linearGradient><linearGradient id="wg" x1="0" y1="0" x2="1" y2="1"><stop offset="0" stop-color="#d8ecd8" stop-opacity="0.5"/><stop offset="1" stop-color="#3aa848" stop-opacity="0.9"/></linearGradient><linearGradient id="fg" x1="0" y1="0" x2="1" y2="1"><stop offset="0" stop-color="#fdf08a"/><stop offset="0.6" stop-color="#f6d23c"/><stop offset="1" stop-color="#e0a018"/></linearGradient><radialGradient id="rd" cx="0.4" cy="0.35" r="0.7"><stop offset="0" stop-color="#ff5030"/><stop offset="1" stop-color="#d01808"/></radialGradient></defs>
<path d="M128.2,9.8 L128.2,17.6 A7.8,7.8 0 0 0 134.8,6.2 Z" fill="url(#wg)"/>
<circle cx="127.9" cy="9.8" r="7.5" fill="none" stroke="url(#rg)" stroke-width="1" opacity="0.75"/>
<circle cx="127.9" cy="9.8" r="4.6" fill="none" stroke="url(#rg)" stroke-width="1" opacity="0.7"/>
<path d="M128.5,10 V17.6" stroke="#16a416" stroke-width="1.3"/>
<circle cx="127.6" cy="9.6" r="1.9" fill="#2a5ad0"/>
<path d="M147.3,8.8 L162.6,8.4 L156,17.3 L153.2,17.3 Z" fill="url(#fg)" stroke="#c89420" stroke-width="0.7"/>
<ellipse cx="154.9" cy="7" rx="7.9" ry="2.7" fill="#5cb2e8" stroke="#2a88c2" stroke-width="0.8"/>
<ellipse cx="154.8" cy="4.9" rx="3.7" ry="2.8" fill="#74c2f0" stroke="#2a88c2" stroke-width="0.6"/>
<ellipse cx="154.8" cy="6.6" rx="3.4" ry="1.2" fill="#74c2f0"/>
<circle cx="159.4" cy="13.8" r="4.1" fill="url(#rd)"/>
<rect x="158" y="12.4" width="2.8" height="2.8" fill="#fff"/>
<path d="M241.5,4.6 v13.3 M239,15.7 h13" stroke="#555" stroke-width="1.2" fill="none"/>
<path d="M239.7,5.9 l1.8,-2.4 l1.8,2.4z M250.8,13.9 l2.6,1.8 l-2.6,1.8z" fill="#555"/>
<path d="M247.6,5.3 v8.6 M247.6,6.5 h2.6 M245,12.6 h2.6" stroke="#0a8a0a" stroke-width="1.3" fill="none"/>
<path d="M269.5,4.6 v13.3 M267,15.7 h13" stroke="#555" stroke-width="1.2" fill="none"/>
<path d="M267.7,5.9 l1.8,-2.4 l1.8,2.4z M278.8,13.9 l2.6,1.8 l-2.6,1.8z" fill="#555"/>
<path d="M275.5,2.1 v11.6" stroke="#0a8a0a" stroke-width="1.2"/><rect x="273.4" y="4.4" width="4.2" height="7.2" fill="#30e848" stroke="#0a8a0a" stroke-width="0.9"/><rect x="274.6" y="5.4" width="1.6" height="5.2" fill="#90f8a0" opacity="0.8"/>
<path d="M297.5,4.6 v13.3 M295,15.7 h13" stroke="#555" stroke-width="1.2" fill="none"/>
<path d="M295.7,5.9 l1.8,-2.4 l1.8,2.4z M306.8,13.9 l2.6,1.8 l-2.6,1.8z" fill="#555"/>
<path d="M296.1,12.6 C298.5,11 300,7.4 302.1,7.3 C304,7.3 305.5,10.2 307.8,11.1" stroke="#1a9a1a" stroke-width="1.2" fill="none"/>
<path d="M336.79999999999995,11.9 l4.6,4.4" stroke="#b88a10" stroke-width="3.2" stroke-linecap="round"/>
<path d="M336.79999999999995,11.7 l4.5,4.3" stroke="#f0d860" stroke-width="1.4" stroke-linecap="round"/>
<circle cx="332.9" cy="7.8" r="5.5" fill="#cdeefa" stroke="#2a78c8" stroke-width="1.2"/>
<path d="M329.5,7.9 h6.8" stroke="#3a88b8" stroke-width="1.9"/>
<path d="M332.9,4.7 v6.4" stroke="#3a88b8" stroke-width="1.9"/>
<path d="M364.9,11.9 l4.6,4.4" stroke="#b88a10" stroke-width="3.2" stroke-linecap="round"/>
<path d="M364.9,11.7 l4.5,4.3" stroke="#f0d860" stroke-width="1.4" stroke-linecap="round"/>
<circle cx="361" cy="7.8" r="5.5" fill="#cdeefa" stroke="#2a78c8" stroke-width="1.2"/>
<path d="M357.6,7.9 h6.8" stroke="#3a88b8" stroke-width="1.9"/>
<rect x="383.2" y="2.1" width="7.9" height="7.9" fill="#3f9e18"/>
<rect x="384.7" y="5.4" width="5" height="3.7" fill="#fff"/><rect x="385.5" y="6.5" width="3.4" height="1" fill="#9cd880"/><rect x="384.5" y="3.2" width="1" height="1" fill="#e8f0ff"/>
<rect x="391.1" y="2.1" width="7.9" height="7.9" fill="#1c50c8"/>
<rect x="392.6" y="5.4" width="5" height="3.7" fill="#fff"/><rect x="393.40000000000003" y="6.5" width="3.4" height="1" fill="#9cb4f0"/><rect x="392.40000000000003" y="3.2" width="1" height="1" fill="#e8f0ff"/>
<rect x="383.2" y="10" width="7.9" height="7.9" fill="#1c50c8"/>
<rect x="384.7" y="13.3" width="5" height="3.7" fill="#fff"/><rect x="385.5" y="14.4" width="3.4" height="1" fill="#9cb4f0"/><rect x="384.5" y="11.1" width="1" height="1" fill="#e8f0ff"/>
<rect x="391.1" y="10" width="7.9" height="7.9" fill="#3f9e18"/>
<rect x="392.6" y="13.3" width="5" height="3.7" fill="#fff"/><rect x="393.40000000000003" y="14.4" width="3.4" height="1" fill="#9cd880"/><rect x="392.40000000000003" y="11.1" width="1" height="1" fill="#e8f0ff"/>
<path d="M421.5,4.6 v13.3 M419,15.7 h13" stroke="#555" stroke-width="1.2" fill="none"/>
<path d="M419.7,5.9 l1.8,-2.4 l1.8,2.4z M430.8,13.9 l2.6,1.8 l-2.6,1.8z" fill="#555"/>
<path d="M426.3,6.1 L430,9.4 L426.3,12.6Z" fill="#8ce08c" stroke="#12a012" stroke-width="1.2" stroke-linejoin="round"/>
<path d="M449.5,4.6 v13.3 M447,15.7 h13" stroke="#555" stroke-width="1.2" fill="none"/>
<path d="M447.7,5.9 l1.8,-2.4 l1.8,2.4z M458.8,13.9 l2.6,1.8 l-2.6,1.8z" fill="#555"/>
<path d="M455.5,4.1 v9.6" stroke="#1870a8" stroke-width="1.3"/><path d="M460.9,9.4 h-4.4 M458.6,7.3 l-2.3,2.1 l2.3,2.1" stroke="#e05010" stroke-width="1.2" fill="none"/>
<path d="M480.8,2.9 h7.4 l3.2,3.2 v9 h-10.6z" fill="#fdfdfd" stroke="#9a9a9a" stroke-width="0.9"/>
<path d="M488.2,2.9 v3.2 h3.2" fill="none" stroke="#9a9a9a" stroke-width="0.8"/>
<path d="M485.6,5.2 q-1.8,-0.4 -1.8,1.6 v5.2 M482.6,8.6 h2.6" stroke="#5a4a30" stroke-width="0.9" fill="none"/>
<path d="M488.4,8.5 h3.6 v3.8 h3.9 v3.5 h-3.9 v3.9 h-3.6 v-3.9 h-3.9 v-3.5 h3.9z" fill="#22dd22" stroke="#0c9a0c" stroke-width="0.7"/>
<path d="M489.2,9.4 h2 v3.7 h3.8 v1 h-3.8" fill="none" stroke="#7af07a" stroke-width="0.7"/>
<path d="M501.7,9.2 h5.6 l-2.8,3.1z" fill="#000"/>
<defs><radialGradient id="ck" cx="0.4" cy="0.3" r="0.8"><stop offset="0" stop-color="#40a8ff"/><stop offset="0.6" stop-color="#1478e0"/><stop offset="1" stop-color="#0a50b8"/></radialGradient><linearGradient id="tb" x1="0" y1="0" x2="1" y2="0"><stop offset="0" stop-color="#8cc0f4"/><stop offset="1" stop-color="#2a6cc8"/></linearGradient></defs>
<circle cx="525.9" cy="9.9" r="8.1" fill="url(#ck)"/><circle cx="525.9" cy="9.9" r="5.6" fill="#f0f2f6"/>
<circle cx="525.9" cy="9.9" r="4.6" fill="none" stroke="#b8bcc8" stroke-width="0.8" stroke-dasharray="0.6,1.8"/>
<path d="M525.4,6.4 V10 H529" stroke="#222" stroke-width="1.5" fill="none"/>
<rect x="525" y="12.4" width="2" height="0.8" fill="#60a8f8"/>
<path d="M540.8,9.2 h5.6 l-2.8,3.1z" fill="#000"/>
<rect x="557.9" y="3.6" width="14.4" height="13" fill="#fff" stroke="#2a68b8" stroke-width="1.2"/>
<rect x="558.4" y="3.4" width="13.4" height="2.2" fill="url(#tb)"/>
<path d="M558,11.4 h14.2" stroke="#2a68b8" stroke-width="1"/>
<path d="M559.6,9.6 h1.6 l3.2,-2 l2.6,1 l3.4,-1.2" stroke="#a02810" stroke-width="1.2" fill="none"/>
<path d="M560.4,14.5 l2.6,-1 l2.4,1 l2.7,-2.2 l2.6,2.2" stroke="#109010" stroke-width="1.2" fill="none"/>
<path d="M579.6,9.2 h5.6 l-2.8,3.1z" fill="#000"/>
<path d="M609,3 L609,14.2 L611.7,12.2 L613.8,17 L615.6,16.3 L613.6,11.4 L617.2,10.8 Z" fill="#505050"/>
<path d="M641.5,3 v6 M641.5,12.2 v5.8 M633.9,10.6 h6 M643.1,10.6 h6" stroke="#505050" stroke-width="1.3"/><rect x="641" y="10.1" width="1" height="1" fill="#706030"/>
<path d="M675.5,4 v13" stroke="#505050" stroke-width="1.3"/>
<path d="M698,10.6 h12" stroke="#505050" stroke-width="1.3"/>
<path d="M725.7,17 L738.1,4.8" stroke="#505050" stroke-width="1.2"/>
<path d="M751.9,11.7 L759.9,4.2 M752.8,16.1 L765.3,4.5 M756.9,17 L766.2,8.4" stroke="#505050" stroke-width="1" stroke-dasharray="1.6,0.6"/>
<path d="M754.6,15 L756.2,8.2 M758,12.6 L759.8,5.8 M761.6,10.4 L763.6,2.4" stroke="#505050" stroke-width="1"/>
<path d="M763.4,14.3 v4.3 M763.4,14.4 h3.4 M763.4,16.4 h2.8 M763.4,18.4 h3.6" stroke="#333" stroke-width="1" fill="none"/>
<path d="M781,3.5 H794.4" stroke="#505050" stroke-width="1" stroke-dasharray="1,1" shape-rendering="crispEdges"/>
<path d="M781,6.5 H794.4" stroke="#505050" stroke-width="1" stroke-dasharray="1,1" shape-rendering="crispEdges"/>
<path d="M781,10.5 H794.4" stroke="#505050" stroke-width="1" stroke-dasharray="1,1" shape-rendering="crispEdges"/>
<path d="M781,14.5 H790" stroke="#505050" stroke-width="1" stroke-dasharray="1,1" shape-rendering="crispEdges"/>
<path d="M791.6,14.3 v4.6 M791.6,14.5 h3.6 M791.6,16.6 h2.8" stroke="#333" stroke-width="1" fill="none"/>
<text x="811.9" y="14.8" font-size="12" fill="#5a5a5a" stroke="#5a5a5a" stroke-width="0.2">A</text>
<rect x="838.5" y="4.5" width="11" height="12" fill="none" stroke="#505050" stroke-width="1" stroke-dasharray="1,1" shape-rendering="crispEdges"/>
<rect x="837" y="3" width="2" height="1.4" fill="#505050"/>
<path d="M839.9,7.5 h8 M843.9,7.5 v7.3" stroke="#5a5a5a" stroke-width="1.6" fill="none"/>
<path d="M865,7.8 L868.5,3.9 L872,7.8z M872,13.2 L875.6,16.9 L879.3,13.2z" fill="#4a4a4a"/>
<path d="M867.3,11.6 L869.3,13.6 L873.6,8.5" stroke="#4a4a4a" stroke-width="1.4" fill="none"/>
<path d="M885.7,9.2 h5.6 l-2.8,3.1z" fill="#000"/>
<text x="912.5" y="14.3" font-size="10" fill="#555" textLength="13" lengthAdjust="spacingAndGlyphs">M1</text>
<text x="940.7" y="14.3" font-size="10" fill="#555" textLength="12.5" lengthAdjust="spacingAndGlyphs">M5</text>
<text x="966.7" y="14.3" font-size="10" fill="#555" textLength="17.5" lengthAdjust="spacingAndGlyphs">M15</text>
<text x="994.6" y="14.3" font-size="10" fill="#555" textLength="17.5" lengthAdjust="spacingAndGlyphs">M30</text>
<text x="1025.6" y="14.3" font-size="10" fill="#555" textLength="11.5" lengthAdjust="spacingAndGlyphs">H1</text>
<text x="1052.3" y="14.3" font-size="10" fill="#555" textLength="12.5" lengthAdjust="spacingAndGlyphs">H4</text>
<text x="1081" y="14.3" font-size="10" fill="#555" textLength="12" lengthAdjust="spacingAndGlyphs">D1</text>
<text x="1109" y="14.3" font-size="10" fill="#555" textLength="14" lengthAdjust="spacingAndGlyphs">W1</text>
<text x="1135.5" y="14.3" font-size="10" fill="#555" textLength="15" lengthAdjust="spacingAndGlyphs">MN</text>
<circle cx="1628.6" cy="7.4" r="3.9" fill="#f4f6ff" stroke="#2a58d0" stroke-width="1.4"/>
<path d="M1625.6,10.6 l-4.2,4.2" stroke="#2a58d0" stroke-width="2.4" stroke-linecap="round"/>
<path d="M1647.3,15.2 l0.8,3.4 l3.2,-2.6z" fill="#c8c8d0" stroke="#a8a8b0" stroke-width="0.5"/>
<ellipse cx="1651" cy="12" rx="5.8" ry="4.6" fill="#f2f2f6" stroke="#a4a4ac" stroke-width="0.8"/>
<ellipse cx="1651" cy="13.4" rx="4.6" ry="2.6" fill="#dcdce6"/>
<circle cx="1659.6" cy="7.2" r="8.1" fill="#e03a22"/>
<text x="1659.6" y="12.2" font-size="13.5" fill="#fff" text-anchor="middle">1</text>
</g>
</svg>
</body></html>
